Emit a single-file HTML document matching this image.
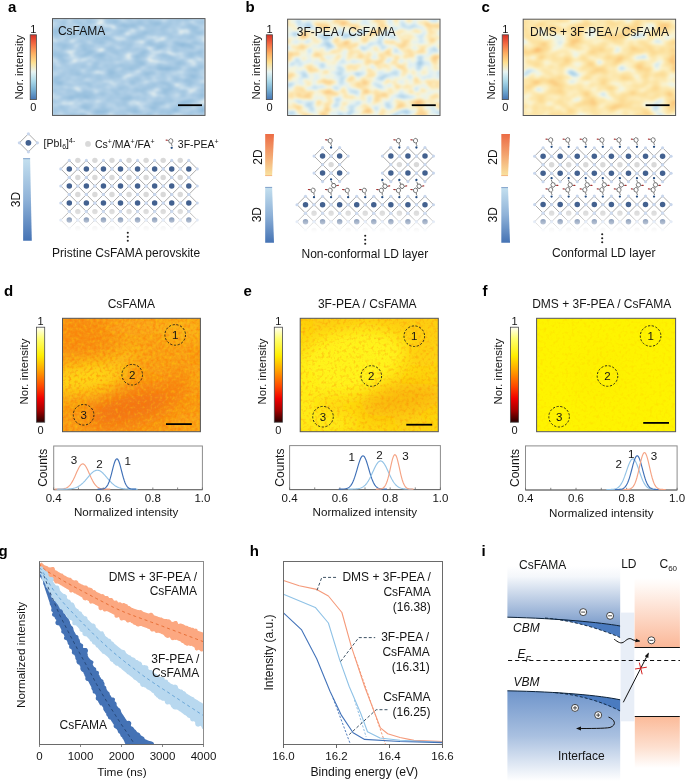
<!DOCTYPE html>
<html><head><meta charset="utf-8"><style>
html,body{margin:0;padding:0;background:#fff;}
svg{display:block;font-family:"Liberation Sans", sans-serif;will-change:transform;}
</style></head><body>
<svg width="685" height="781" viewBox="0 0 685 781">
<defs>
<linearGradient id="gRdYlBu" x1="0" y1="0" x2="0" y2="1"><stop offset="0.0" stop-color="#d73027"/><stop offset="0.14285714285714285" stop-color="#f46d43"/><stop offset="0.2857142857142857" stop-color="#fdae61"/><stop offset="0.42857142857142855" stop-color="#fee090"/><stop offset="0.5714285714285714" stop-color="#e8f4f2"/><stop offset="0.7142857142857143" stop-color="#abd9e9"/><stop offset="0.8571428571428571" stop-color="#74add1"/><stop offset="1.0" stop-color="#4575b4"/></linearGradient>
<linearGradient id="gHot" x1="0" y1="0" x2="0" y2="1"><stop offset="0" stop-color="#fffff6"/><stop offset="0.12" stop-color="#ffff70"/><stop offset="0.3" stop-color="#ffee00"/><stop offset="0.45" stop-color="#ffa500"/><stop offset="0.62" stop-color="#ff4a00"/><stop offset="0.75" stop-color="#f00000"/><stop offset="0.88" stop-color="#a00000"/><stop offset="1" stop-color="#280000"/></linearGradient>
<linearGradient id="g2D" x1="0" y1="0" x2="0" y2="1"><stop offset="0" stop-color="#ec6c45"/><stop offset="0.5" stop-color="#f3a570"/><stop offset="1" stop-color="#f9e3a0"/></linearGradient>
<linearGradient id="g3D" x1="0" y1="0" x2="0" y2="1"><stop offset="0" stop-color="#c4e0ef"/><stop offset="0.5" stop-color="#8fb2d8"/><stop offset="1" stop-color="#4573b4"/></linearGradient>
<filter id="fa" x="0" y="0" width="1" height="1" color-interpolation-filters="sRGB">
<feTurbulence type="fractalNoise" baseFrequency="0.075 0.14" numOctaves="2" seed="7" result="n"/>
<feColorMatrix in="n" type="matrix" values="1 0 0 0 0 1 0 0 0 0 1 0 0 0 0 0 0 0 0 1"/>
<feComponentTransfer><feFuncR type="table" tableValues="0.533 0.533 0.573 0.608 0.639 0.671 0.714 0.796 0.910 0.961 0.961"/><feFuncG type="table" tableValues="0.710 0.710 0.737 0.761 0.780 0.800 0.827 0.878 0.941 0.925 0.910"/><feFuncB type="table" tableValues="0.847 0.847 0.863 0.875 0.886 0.898 0.910 0.929 0.933 0.769 0.690"/></feComponentTransfer>
<feGaussianBlur stdDeviation="1.1"/>
</filter>
<filter id="fb" x="0" y="0" width="1" height="1" color-interpolation-filters="sRGB">
<feTurbulence type="fractalNoise" baseFrequency="0.075 0.1" numOctaves="2" seed="11" result="n"/>
<feColorMatrix in="n" type="matrix" values="1 0 0 0 0 1 0 0 0 0 1 0 0 0 0 0 0 0 0 1"/>
<feComponentTransfer><feFuncR type="table" tableValues="0.612 0.612 0.690 0.784 0.886 0.965 0.992 0.988 0.984 0.976 0.976"/><feFuncG type="table" tableValues="0.773 0.773 0.824 0.886 0.945 0.961 0.910 0.859 0.788 0.690 0.690"/><feFuncB type="table" tableValues="0.886 0.886 0.918 0.937 0.957 0.863 0.706 0.612 0.522 0.439 0.439"/></feComponentTransfer>
<feGaussianBlur stdDeviation="1.1"/>
</filter>
<filter id="fc" x="0" y="0" width="1" height="1" color-interpolation-filters="sRGB">
<feTurbulence type="fractalNoise" baseFrequency="0.06 0.09" numOctaves="2" seed="5" result="n"/>
<feColorMatrix in="n" type="matrix" values="1 0 0 0 0 1 0 0 0 0 1 0 0 0 0 0 0 0 0 1"/>
<feComponentTransfer><feFuncR type="table" tableValues="0.671 0.671 0.812 0.945 0.988 0.992 0.992 0.988 0.988 0.984 0.984"/><feFuncG type="table" tableValues="0.824 0.824 0.902 0.965 0.945 0.910 0.882 0.847 0.788 0.722 0.722"/><feFuncB type="table" tableValues="0.910 0.910 0.941 0.902 0.776 0.682 0.620 0.565 0.494 0.424 0.424"/></feComponentTransfer>
<feGaussianBlur stdDeviation="1.1"/>
</filter>
<g id="mol"><polygon points="1.21,-5.96 -0.51,-4.39 -2.62,-5.23 -3.01,-7.64 -1.29,-9.21 0.82,-8.37" fill="none" stroke="#505050" stroke-width="0.75"/>
<line x1="-3.0" y1="-7.5" x2="-4.3" y2="-7.6" stroke="#505050" stroke-width="0.7"/>
<line x1="-4.5" y1="-7.6" x2="-5.6" y2="-7.7" stroke="#a83030" stroke-width="1.1" stroke-linecap="round"/>
<polyline points="0.1,-4.4 -0.1,-3.0 0.6,-1.6" fill="none" stroke="#505050" stroke-width="0.75"/>
<circle cx="0" cy="0" r="1.15" fill="#234c80"/></g>
<linearGradient id="mag" x1="0" y1="209.5" x2="0" y2="232" gradientUnits="userSpaceOnUse"><stop offset="0" stop-color="#fff"/><stop offset="0.5" stop-color="#fff" stop-opacity="0.48"/><stop offset="1" stop-color="#fff" stop-opacity="0"/></linearGradient>
<mask id="ma" maskUnits="userSpaceOnUse" x="0" y="0" width="685" height="781"><rect x="0" y="0" width="685" height="781" fill="url(#mag)"/></mask>
<linearGradient id="mbg" x1="0" y1="210.5" x2="0" y2="233" gradientUnits="userSpaceOnUse"><stop offset="0" stop-color="#fff"/><stop offset="0.5" stop-color="#fff" stop-opacity="0.48"/><stop offset="1" stop-color="#fff" stop-opacity="0"/></linearGradient>
<mask id="mb" maskUnits="userSpaceOnUse" x="0" y="0" width="685" height="781"><rect x="0" y="0" width="685" height="781" fill="url(#mbg)"/></mask>
<linearGradient id="mcg" x1="0" y1="210.5" x2="0" y2="233" gradientUnits="userSpaceOnUse"><stop offset="0" stop-color="#fff"/><stop offset="0.5" stop-color="#fff" stop-opacity="0.48"/><stop offset="1" stop-color="#fff" stop-opacity="0"/></linearGradient>
<mask id="mc" maskUnits="userSpaceOnUse" x="0" y="0" width="685" height="781"><rect x="0" y="0" width="685" height="781" fill="url(#mcg)"/></mask>
<filter id="grain" x="0" y="0" width="1" height="1" color-interpolation-filters="sRGB">
<feTurbulence type="fractalNoise" baseFrequency="0.32" numOctaves="2" seed="9" result="n"/>
<feColorMatrix in="n" type="matrix" values="0 0 0 0 1 0 0 0 0 0.45 0 0 0 0 0 2.6 0 0 0 -1.25" result="dk"/>
<feColorMatrix in="n" type="matrix" values="0 0 0 0 1 0 0 0 0 0.9 0 0 0 0 0 -1.8 0 0 0 0.85" result="lt"/>
<feMerge><feMergeNode in="dk"/><feMergeNode in="lt"/></feMerge>
</filter>
<filter id="blur8" x="-50%" y="-50%" width="200%" height="200%"><feGaussianBlur stdDeviation="8"/></filter>
<clipPath id="cpd"><rect x="62.5" y="318.3" width="137.9" height="113.4"/></clipPath>
<clipPath id="cpe"><rect x="300.2" y="318.3" width="138.1" height="113.4"/></clipPath>
<clipPath id="cpf"><rect x="536.6" y="318.3" width="139" height="113.4"/></clipPath>
<clipPath id="cpg"><rect x="39.5" y="561.5" width="164.0" height="183.0"/></clipPath>
<clipPath id="cph"><rect x="283.5" y="561.5" width="159" height="183"/></clipPath>
<linearGradient id="giU" x1="0" y1="566" x2="0" y2="626" gradientUnits="userSpaceOnUse"><stop offset="0" stop-color="#ffffff"/><stop offset="0.18" stop-color="#f4f7fb"/><stop offset="1" stop-color="#7a9bca"/></linearGradient>
<linearGradient id="giL" x1="0" y1="691" x2="0" y2="781" gradientUnits="userSpaceOnUse"><stop offset="0" stop-color="#6f95cb"/><stop offset="0.5" stop-color="#a9c0e0"/><stop offset="1" stop-color="#ffffff"/></linearGradient>
<linearGradient id="gcU" x1="0" y1="578" x2="0" y2="648" gradientUnits="userSpaceOnUse"><stop offset="0" stop-color="#ffffff"/><stop offset="0.12" stop-color="#fff8f4"/><stop offset="1" stop-color="#fbb797"/></linearGradient>
<linearGradient id="gcL" x1="0" y1="717" x2="0" y2="768" gradientUnits="userSpaceOnUse"><stop offset="0" stop-color="#fbbb9a"/><stop offset="0.6" stop-color="#fde0d0"/><stop offset="1" stop-color="#ffffff"/></linearGradient>
<marker id="arr" viewBox="0 0 10 10" refX="8" refY="5" markerWidth="5" markerHeight="5" orient="auto-start-reverse"><path d="M0 1 L10 5 L0 9 Z" fill="#111"/></marker>
</defs>
<rect width="685" height="781" fill="#fff"/>
<text x="8.00" y="11.60" font-size="15" font-weight="bold" fill="#000">a</text>
<rect x="30.2" y="34.8" width="6.2" height="64.8" fill="url(#gRdYlBu)" stroke="#4a4a4a" stroke-width="0.8"/>
<text x="33.30" y="32.60" font-size="11" text-anchor="middle" fill="#151515">1</text>
<text x="33.30" y="110.90" font-size="11" text-anchor="middle" fill="#151515">0</text>
<text x="19.30" y="67.20" font-size="11.2" text-anchor="middle" fill="#151515" transform="rotate(-90 19.30 67.20)" dominant-baseline="central">Nor. intensity</text>
<rect x="52.5" y="18.6" width="152.5" height="96.8" fill="#fff" filter="url(#fa)"/>
<rect x="52.5" y="18.6" width="152.5" height="96.8" fill="none" stroke="#555" stroke-width="1"/>
<text x="57.90" y="34.90" font-size="12" fill="#151515">CsFAMA</text>
<line x1="178" y1="105.2" x2="202" y2="105.2" stroke="#000" stroke-width="1.8"/>
<text x="245.60" y="11.60" font-size="15" font-weight="bold" fill="#000">b</text>
<rect x="266.3" y="34.8" width="6.3" height="64.8" fill="url(#gRdYlBu)" stroke="#4a4a4a" stroke-width="0.8"/>
<text x="269.45" y="32.60" font-size="11" text-anchor="middle" fill="#151515">1</text>
<text x="269.45" y="110.90" font-size="11" text-anchor="middle" fill="#151515">0</text>
<text x="255.60" y="67.20" font-size="11.2" text-anchor="middle" fill="#151515" transform="rotate(-90 255.60 67.20)" dominant-baseline="central">Nor. intensity</text>
<rect x="287.6" y="19.2" width="152.4" height="96.3" fill="#fff" filter="url(#fb)"/>
<rect x="287.6" y="19.2" width="152.4" height="96.3" fill="none" stroke="#555" stroke-width="1"/>
<text x="296.80" y="35.50" font-size="12" fill="#151515">3F-PEA / CsFAMA</text>
<line x1="411.8" y1="105.2" x2="435.8" y2="105.2" stroke="#000" stroke-width="1.8"/>
<text x="481.50" y="11.60" font-size="15" font-weight="bold" fill="#000">c</text>
<rect x="502.2" y="34.8" width="6.3" height="64.8" fill="url(#gRdYlBu)" stroke="#4a4a4a" stroke-width="0.8"/>
<text x="505.35" y="32.60" font-size="11" text-anchor="middle" fill="#151515">1</text>
<text x="505.35" y="110.90" font-size="11" text-anchor="middle" fill="#151515">0</text>
<text x="491.50" y="67.20" font-size="11.2" text-anchor="middle" fill="#151515" transform="rotate(-90 491.50 67.20)" dominant-baseline="central">Nor. intensity</text>
<rect x="523.2" y="19.2" width="152.4" height="96.3" fill="#fff" filter="url(#fc)"/>
<rect x="523.2" y="19.2" width="152.4" height="96.3" fill="none" stroke="#555" stroke-width="1"/>
<text x="530.00" y="35.50" font-size="12" fill="#151515">DMS + 3F-PEA / CsFAMA</text>
<line x1="645.6" y1="105.2" x2="669.6" y2="105.2" stroke="#000" stroke-width="1.8"/>
<path d="M19.4 142.8L28.4 133.8L37.4 142.8L28.4 151.8Z" fill="none" stroke="#868686" stroke-width="0.7"/>
<circle cx="19.4" cy="142.8" r="1.6" fill="#c8d6ec"/>
<circle cx="37.4" cy="142.8" r="1.6" fill="#c8d6ec"/>
<circle cx="28.4" cy="133.8" r="1.6" fill="#c8d6ec"/>
<circle cx="28.4" cy="151.8" r="1.6" fill="#c8d6ec"/>
<circle cx="28.4" cy="142.8" r="2.9" fill="#43618f"/>
<text x="43.50" y="147.40" font-size="10.5" fill="#151515">[PbI<tspan font-size="7" dy="2">6</tspan><tspan dy="-2">]</tspan><tspan font-size="7" dy="-4.5">4-</tspan></text>
<circle cx="88" cy="143.9" r="2.9" fill="#d9d9d9"/>
<text x="95.00" y="147.60" font-size="10.5" fill="#151515">Cs<tspan font-size="7" dy="-4">+</tspan><tspan dy="4">/MA</tspan><tspan font-size="7" dy="-4">+</tspan><tspan dy="4">/FA</tspan><tspan font-size="7" dy="-4">+</tspan></text>
<use href="#mol" transform="translate(171.7 147.8)"/>
<text x="177.80" y="148.00" font-size="10.5" fill="#151515">3F-PEA<tspan font-size="7" dy="-4">+</tspan></text>
<polygon points="23.1,158.3 30.1,158.3 31.8,240.8 23.1,240.8" fill="url(#g3D)"/>
<line x1="23.1" y1="158.7" x2="30.1" y2="158.7" stroke="#6f90c0" stroke-width="0.8"/>
<text x="16.00" y="199.50" font-size="12" text-anchor="middle" fill="#151515" transform="rotate(-90 16.00 199.50)" dominant-baseline="central">3D</text>
<g mask="url(#ma)">
<path d="M60.8 168.9L69.3 160.4L77.8 168.9L69.3 177.4ZM77.87 168.9L86.37 160.4L94.87 168.9L86.37 177.4ZM94.94 168.9L103.44 160.4L111.94 168.9L103.44 177.4ZM112.01 168.9L120.51 160.4L129.01 168.9L120.51 177.4ZM129.08 168.9L137.58 160.4L146.08 168.9L137.58 177.4ZM146.15 168.9L154.65 160.4L163.15 168.9L154.65 177.4ZM163.22 168.9L171.72 160.4L180.22 168.9L171.72 177.4ZM180.29 168.9L188.79 160.4L197.29 168.9L188.79 177.4ZM60.8 185.97L69.3 177.47L77.8 185.97L69.3 194.47ZM77.87 185.97L86.37 177.47L94.87 185.97L86.37 194.47ZM94.94 185.97L103.44 177.47L111.94 185.97L103.44 194.47ZM112.01 185.97L120.51 177.47L129.01 185.97L120.51 194.47ZM129.08 185.97L137.58 177.47L146.08 185.97L137.58 194.47ZM146.15 185.97L154.65 177.47L163.15 185.97L154.65 194.47ZM163.22 185.97L171.72 177.47L180.22 185.97L171.72 194.47ZM180.29 185.97L188.79 177.47L197.29 185.97L188.79 194.47ZM60.8 203.04L69.3 194.54L77.8 203.04L69.3 211.54ZM77.87 203.04L86.37 194.54L94.87 203.04L86.37 211.54ZM94.94 203.04L103.44 194.54L111.94 203.04L103.44 211.54ZM112.01 203.04L120.51 194.54L129.01 203.04L120.51 211.54ZM129.08 203.04L137.58 194.54L146.08 203.04L137.58 211.54ZM146.15 203.04L154.65 194.54L163.15 203.04L154.65 211.54ZM163.22 203.04L171.72 194.54L180.22 203.04L171.72 211.54ZM180.29 203.04L188.79 194.54L197.29 203.04L188.79 211.54ZM60.8 220.11L69.3 211.61L77.8 220.11L69.3 228.61ZM77.87 220.11L86.37 211.61L94.87 220.11L86.37 228.61ZM94.94 220.11L103.44 211.61L111.94 220.11L103.44 228.61ZM112.01 220.11L120.51 211.61L129.01 220.11L120.51 228.61ZM129.08 220.11L137.58 211.61L146.08 220.11L137.58 228.61ZM146.15 220.11L154.65 211.61L163.15 220.11L154.65 228.61ZM163.22 220.11L171.72 211.61L180.22 220.11L171.72 228.61ZM180.29 220.11L188.79 211.61L197.29 220.11L188.79 228.61Z" fill="none" stroke="#868686" stroke-width="0.7"/>
<circle cx="77.83" cy="160.37" r="2.7" fill="#d9d9d9"/>
<circle cx="94.9" cy="160.37" r="2.7" fill="#d9d9d9"/>
<circle cx="111.97" cy="160.37" r="2.7" fill="#d9d9d9"/>
<circle cx="129.04" cy="160.37" r="2.7" fill="#d9d9d9"/>
<circle cx="146.11" cy="160.37" r="2.7" fill="#d9d9d9"/>
<circle cx="163.18" cy="160.37" r="2.7" fill="#d9d9d9"/>
<circle cx="180.25" cy="160.37" r="2.7" fill="#d9d9d9"/>
<circle cx="77.83" cy="177.44" r="2.7" fill="#d9d9d9"/>
<circle cx="94.9" cy="177.44" r="2.7" fill="#d9d9d9"/>
<circle cx="111.97" cy="177.44" r="2.7" fill="#d9d9d9"/>
<circle cx="129.04" cy="177.44" r="2.7" fill="#d9d9d9"/>
<circle cx="146.11" cy="177.44" r="2.7" fill="#d9d9d9"/>
<circle cx="163.18" cy="177.44" r="2.7" fill="#d9d9d9"/>
<circle cx="180.25" cy="177.44" r="2.7" fill="#d9d9d9"/>
<circle cx="77.83" cy="194.51" r="2.7" fill="#d9d9d9"/>
<circle cx="94.9" cy="194.51" r="2.7" fill="#d9d9d9"/>
<circle cx="111.97" cy="194.51" r="2.7" fill="#d9d9d9"/>
<circle cx="129.04" cy="194.51" r="2.7" fill="#d9d9d9"/>
<circle cx="146.11" cy="194.51" r="2.7" fill="#d9d9d9"/>
<circle cx="163.18" cy="194.51" r="2.7" fill="#d9d9d9"/>
<circle cx="180.25" cy="194.51" r="2.7" fill="#d9d9d9"/>
<circle cx="77.83" cy="211.58" r="2.7" fill="#d9d9d9"/>
<circle cx="94.9" cy="211.58" r="2.7" fill="#d9d9d9"/>
<circle cx="111.97" cy="211.58" r="2.7" fill="#d9d9d9"/>
<circle cx="129.04" cy="211.58" r="2.7" fill="#d9d9d9"/>
<circle cx="146.11" cy="211.58" r="2.7" fill="#d9d9d9"/>
<circle cx="163.18" cy="211.58" r="2.7" fill="#d9d9d9"/>
<circle cx="180.25" cy="211.58" r="2.7" fill="#d9d9d9"/>
<circle cx="77.83" cy="228.65" r="2.7" fill="#d9d9d9"/>
<circle cx="94.9" cy="228.65" r="2.7" fill="#d9d9d9"/>
<circle cx="111.97" cy="228.65" r="2.7" fill="#d9d9d9"/>
<circle cx="129.04" cy="228.65" r="2.7" fill="#d9d9d9"/>
<circle cx="146.11" cy="228.65" r="2.7" fill="#d9d9d9"/>
<circle cx="163.18" cy="228.65" r="2.7" fill="#d9d9d9"/>
<circle cx="180.25" cy="228.65" r="2.7" fill="#d9d9d9"/>
<circle cx="60.8" cy="168.9" r="1.55" fill="#c8d6ec"/>
<circle cx="60.8" cy="185.97" r="1.55" fill="#c8d6ec"/>
<circle cx="60.8" cy="203.04" r="1.55" fill="#c8d6ec"/>
<circle cx="60.8" cy="220.11" r="1.55" fill="#c8d6ec"/>
<circle cx="69.3" cy="160.4" r="1.55" fill="#c8d6ec"/>
<circle cx="69.3" cy="177.4" r="1.55" fill="#c8d6ec"/>
<circle cx="69.3" cy="177.47" r="1.55" fill="#c8d6ec"/>
<circle cx="69.3" cy="194.47" r="1.55" fill="#c8d6ec"/>
<circle cx="69.3" cy="194.54" r="1.55" fill="#c8d6ec"/>
<circle cx="69.3" cy="211.54" r="1.55" fill="#c8d6ec"/>
<circle cx="69.3" cy="211.61" r="1.55" fill="#c8d6ec"/>
<circle cx="69.3" cy="228.61" r="1.55" fill="#c8d6ec"/>
<circle cx="77.8" cy="168.9" r="1.55" fill="#c8d6ec"/>
<circle cx="77.8" cy="185.97" r="1.55" fill="#c8d6ec"/>
<circle cx="77.8" cy="203.04" r="1.55" fill="#c8d6ec"/>
<circle cx="77.8" cy="220.11" r="1.55" fill="#c8d6ec"/>
<circle cx="77.87" cy="168.9" r="1.55" fill="#c8d6ec"/>
<circle cx="77.87" cy="185.97" r="1.55" fill="#c8d6ec"/>
<circle cx="77.87" cy="203.04" r="1.55" fill="#c8d6ec"/>
<circle cx="77.87" cy="220.11" r="1.55" fill="#c8d6ec"/>
<circle cx="86.37" cy="160.4" r="1.55" fill="#c8d6ec"/>
<circle cx="86.37" cy="177.4" r="1.55" fill="#c8d6ec"/>
<circle cx="86.37" cy="177.47" r="1.55" fill="#c8d6ec"/>
<circle cx="86.37" cy="194.47" r="1.55" fill="#c8d6ec"/>
<circle cx="86.37" cy="194.54" r="1.55" fill="#c8d6ec"/>
<circle cx="86.37" cy="211.54" r="1.55" fill="#c8d6ec"/>
<circle cx="86.37" cy="211.61" r="1.55" fill="#c8d6ec"/>
<circle cx="86.37" cy="228.61" r="1.55" fill="#c8d6ec"/>
<circle cx="94.87" cy="168.9" r="1.55" fill="#c8d6ec"/>
<circle cx="94.87" cy="185.97" r="1.55" fill="#c8d6ec"/>
<circle cx="94.87" cy="203.04" r="1.55" fill="#c8d6ec"/>
<circle cx="94.87" cy="220.11" r="1.55" fill="#c8d6ec"/>
<circle cx="94.94" cy="168.9" r="1.55" fill="#c8d6ec"/>
<circle cx="94.94" cy="185.97" r="1.55" fill="#c8d6ec"/>
<circle cx="94.94" cy="203.04" r="1.55" fill="#c8d6ec"/>
<circle cx="94.94" cy="220.11" r="1.55" fill="#c8d6ec"/>
<circle cx="103.44" cy="160.4" r="1.55" fill="#c8d6ec"/>
<circle cx="103.44" cy="177.4" r="1.55" fill="#c8d6ec"/>
<circle cx="103.44" cy="177.47" r="1.55" fill="#c8d6ec"/>
<circle cx="103.44" cy="194.47" r="1.55" fill="#c8d6ec"/>
<circle cx="103.44" cy="194.54" r="1.55" fill="#c8d6ec"/>
<circle cx="103.44" cy="211.54" r="1.55" fill="#c8d6ec"/>
<circle cx="103.44" cy="211.61" r="1.55" fill="#c8d6ec"/>
<circle cx="103.44" cy="228.61" r="1.55" fill="#c8d6ec"/>
<circle cx="111.94" cy="168.9" r="1.55" fill="#c8d6ec"/>
<circle cx="111.94" cy="185.97" r="1.55" fill="#c8d6ec"/>
<circle cx="111.94" cy="203.04" r="1.55" fill="#c8d6ec"/>
<circle cx="111.94" cy="220.11" r="1.55" fill="#c8d6ec"/>
<circle cx="112.01" cy="168.9" r="1.55" fill="#c8d6ec"/>
<circle cx="112.01" cy="185.97" r="1.55" fill="#c8d6ec"/>
<circle cx="112.01" cy="203.04" r="1.55" fill="#c8d6ec"/>
<circle cx="112.01" cy="220.11" r="1.55" fill="#c8d6ec"/>
<circle cx="120.51" cy="160.4" r="1.55" fill="#c8d6ec"/>
<circle cx="120.51" cy="177.4" r="1.55" fill="#c8d6ec"/>
<circle cx="120.51" cy="177.47" r="1.55" fill="#c8d6ec"/>
<circle cx="120.51" cy="194.47" r="1.55" fill="#c8d6ec"/>
<circle cx="120.51" cy="194.54" r="1.55" fill="#c8d6ec"/>
<circle cx="120.51" cy="211.54" r="1.55" fill="#c8d6ec"/>
<circle cx="120.51" cy="211.61" r="1.55" fill="#c8d6ec"/>
<circle cx="120.51" cy="228.61" r="1.55" fill="#c8d6ec"/>
<circle cx="129.01" cy="168.9" r="1.55" fill="#c8d6ec"/>
<circle cx="129.01" cy="185.97" r="1.55" fill="#c8d6ec"/>
<circle cx="129.01" cy="203.04" r="1.55" fill="#c8d6ec"/>
<circle cx="129.01" cy="220.11" r="1.55" fill="#c8d6ec"/>
<circle cx="129.08" cy="168.9" r="1.55" fill="#c8d6ec"/>
<circle cx="129.08" cy="185.97" r="1.55" fill="#c8d6ec"/>
<circle cx="129.08" cy="203.04" r="1.55" fill="#c8d6ec"/>
<circle cx="129.08" cy="220.11" r="1.55" fill="#c8d6ec"/>
<circle cx="137.58" cy="160.4" r="1.55" fill="#c8d6ec"/>
<circle cx="137.58" cy="177.4" r="1.55" fill="#c8d6ec"/>
<circle cx="137.58" cy="177.47" r="1.55" fill="#c8d6ec"/>
<circle cx="137.58" cy="194.47" r="1.55" fill="#c8d6ec"/>
<circle cx="137.58" cy="194.54" r="1.55" fill="#c8d6ec"/>
<circle cx="137.58" cy="211.54" r="1.55" fill="#c8d6ec"/>
<circle cx="137.58" cy="211.61" r="1.55" fill="#c8d6ec"/>
<circle cx="137.58" cy="228.61" r="1.55" fill="#c8d6ec"/>
<circle cx="146.08" cy="168.9" r="1.55" fill="#c8d6ec"/>
<circle cx="146.08" cy="185.97" r="1.55" fill="#c8d6ec"/>
<circle cx="146.08" cy="203.04" r="1.55" fill="#c8d6ec"/>
<circle cx="146.08" cy="220.11" r="1.55" fill="#c8d6ec"/>
<circle cx="146.15" cy="168.9" r="1.55" fill="#c8d6ec"/>
<circle cx="146.15" cy="185.97" r="1.55" fill="#c8d6ec"/>
<circle cx="146.15" cy="203.04" r="1.55" fill="#c8d6ec"/>
<circle cx="146.15" cy="220.11" r="1.55" fill="#c8d6ec"/>
<circle cx="154.65" cy="160.4" r="1.55" fill="#c8d6ec"/>
<circle cx="154.65" cy="177.4" r="1.55" fill="#c8d6ec"/>
<circle cx="154.65" cy="177.47" r="1.55" fill="#c8d6ec"/>
<circle cx="154.65" cy="194.47" r="1.55" fill="#c8d6ec"/>
<circle cx="154.65" cy="194.54" r="1.55" fill="#c8d6ec"/>
<circle cx="154.65" cy="211.54" r="1.55" fill="#c8d6ec"/>
<circle cx="154.65" cy="211.61" r="1.55" fill="#c8d6ec"/>
<circle cx="154.65" cy="228.61" r="1.55" fill="#c8d6ec"/>
<circle cx="163.15" cy="168.9" r="1.55" fill="#c8d6ec"/>
<circle cx="163.15" cy="185.97" r="1.55" fill="#c8d6ec"/>
<circle cx="163.15" cy="203.04" r="1.55" fill="#c8d6ec"/>
<circle cx="163.15" cy="220.11" r="1.55" fill="#c8d6ec"/>
<circle cx="163.22" cy="168.9" r="1.55" fill="#c8d6ec"/>
<circle cx="163.22" cy="185.97" r="1.55" fill="#c8d6ec"/>
<circle cx="163.22" cy="203.04" r="1.55" fill="#c8d6ec"/>
<circle cx="163.22" cy="220.11" r="1.55" fill="#c8d6ec"/>
<circle cx="171.72" cy="160.4" r="1.55" fill="#c8d6ec"/>
<circle cx="171.72" cy="177.4" r="1.55" fill="#c8d6ec"/>
<circle cx="171.72" cy="177.47" r="1.55" fill="#c8d6ec"/>
<circle cx="171.72" cy="194.47" r="1.55" fill="#c8d6ec"/>
<circle cx="171.72" cy="194.54" r="1.55" fill="#c8d6ec"/>
<circle cx="171.72" cy="211.54" r="1.55" fill="#c8d6ec"/>
<circle cx="171.72" cy="211.61" r="1.55" fill="#c8d6ec"/>
<circle cx="171.72" cy="228.61" r="1.55" fill="#c8d6ec"/>
<circle cx="180.22" cy="168.9" r="1.55" fill="#c8d6ec"/>
<circle cx="180.22" cy="185.97" r="1.55" fill="#c8d6ec"/>
<circle cx="180.22" cy="203.04" r="1.55" fill="#c8d6ec"/>
<circle cx="180.22" cy="220.11" r="1.55" fill="#c8d6ec"/>
<circle cx="180.29" cy="168.9" r="1.55" fill="#c8d6ec"/>
<circle cx="180.29" cy="185.97" r="1.55" fill="#c8d6ec"/>
<circle cx="180.29" cy="203.04" r="1.55" fill="#c8d6ec"/>
<circle cx="180.29" cy="220.11" r="1.55" fill="#c8d6ec"/>
<circle cx="188.79" cy="160.4" r="1.55" fill="#c8d6ec"/>
<circle cx="188.79" cy="177.4" r="1.55" fill="#c8d6ec"/>
<circle cx="188.79" cy="177.47" r="1.55" fill="#c8d6ec"/>
<circle cx="188.79" cy="194.47" r="1.55" fill="#c8d6ec"/>
<circle cx="188.79" cy="194.54" r="1.55" fill="#c8d6ec"/>
<circle cx="188.79" cy="211.54" r="1.55" fill="#c8d6ec"/>
<circle cx="188.79" cy="211.61" r="1.55" fill="#c8d6ec"/>
<circle cx="188.79" cy="228.61" r="1.55" fill="#c8d6ec"/>
<circle cx="197.29" cy="168.9" r="1.55" fill="#c8d6ec"/>
<circle cx="197.29" cy="185.97" r="1.55" fill="#c8d6ec"/>
<circle cx="197.29" cy="203.04" r="1.55" fill="#c8d6ec"/>
<circle cx="197.29" cy="220.11" r="1.55" fill="#c8d6ec"/>
<circle cx="69.3" cy="168.9" r="2.75" fill="#43618f"/>
<circle cx="86.37" cy="168.9" r="2.75" fill="#43618f"/>
<circle cx="103.44" cy="168.9" r="2.75" fill="#43618f"/>
<circle cx="120.51" cy="168.9" r="2.75" fill="#43618f"/>
<circle cx="137.58" cy="168.9" r="2.75" fill="#43618f"/>
<circle cx="154.65" cy="168.9" r="2.75" fill="#43618f"/>
<circle cx="171.72" cy="168.9" r="2.75" fill="#43618f"/>
<circle cx="188.79" cy="168.9" r="2.75" fill="#43618f"/>
<circle cx="69.3" cy="185.97" r="2.75" fill="#43618f"/>
<circle cx="86.37" cy="185.97" r="2.75" fill="#43618f"/>
<circle cx="103.44" cy="185.97" r="2.75" fill="#43618f"/>
<circle cx="120.51" cy="185.97" r="2.75" fill="#43618f"/>
<circle cx="137.58" cy="185.97" r="2.75" fill="#43618f"/>
<circle cx="154.65" cy="185.97" r="2.75" fill="#43618f"/>
<circle cx="171.72" cy="185.97" r="2.75" fill="#43618f"/>
<circle cx="188.79" cy="185.97" r="2.75" fill="#43618f"/>
<circle cx="69.3" cy="203.04" r="2.75" fill="#43618f"/>
<circle cx="86.37" cy="203.04" r="2.75" fill="#43618f"/>
<circle cx="103.44" cy="203.04" r="2.75" fill="#43618f"/>
<circle cx="120.51" cy="203.04" r="2.75" fill="#43618f"/>
<circle cx="137.58" cy="203.04" r="2.75" fill="#43618f"/>
<circle cx="154.65" cy="203.04" r="2.75" fill="#43618f"/>
<circle cx="171.72" cy="203.04" r="2.75" fill="#43618f"/>
<circle cx="188.79" cy="203.04" r="2.75" fill="#43618f"/>
<circle cx="69.3" cy="220.11" r="2.75" fill="#43618f"/>
<circle cx="86.37" cy="220.11" r="2.75" fill="#43618f"/>
<circle cx="103.44" cy="220.11" r="2.75" fill="#43618f"/>
<circle cx="120.51" cy="220.11" r="2.75" fill="#43618f"/>
<circle cx="137.58" cy="220.11" r="2.75" fill="#43618f"/>
<circle cx="154.65" cy="220.11" r="2.75" fill="#43618f"/>
<circle cx="171.72" cy="220.11" r="2.75" fill="#43618f"/>
<circle cx="188.79" cy="220.11" r="2.75" fill="#43618f"/>
</g>
<circle cx="127.8" cy="232.8" r="1.05" fill="#222"/>
<circle cx="127.8" cy="236.8" r="1.05" fill="#222"/>
<circle cx="127.8" cy="240.8" r="1.05" fill="#222"/>
<text x="52.00" y="257.00" font-size="12" fill="#151515">Pristine CsFAMA perovskite</text>
<polygon points="265.2,134.1 274,134.1 272.1,176 265.2,176" fill="url(#g2D)"/>
<line x1="265.2" y1="175.6" x2="272.1" y2="175.6" stroke="#f2a878" stroke-width="0.8"/>
<polygon points="265.2,187 272.1,187 274,242.8 265.2,242.8" fill="url(#g3D)"/>
<line x1="265.2" y1="187.4" x2="272.1" y2="187.4" stroke="#6f90c0" stroke-width="0.8"/>
<text x="257.50" y="157.00" font-size="12" text-anchor="middle" fill="#151515" transform="rotate(-90 257.50 157.00)" dominant-baseline="central">2D</text>
<text x="257.50" y="214.70" font-size="12" text-anchor="middle" fill="#151515" transform="rotate(-90 257.50 214.70)" dominant-baseline="central">3D</text>
<g>
<path d="M314.07 156.1L322.57 147.6L331.07 156.1L322.57 164.6ZM331.14 156.1L339.64 147.6L348.14 156.1L339.64 164.6ZM314.07 173.1L322.57 164.6L331.07 173.1L322.57 181.6ZM331.14 173.1L339.64 164.6L348.14 173.1L339.64 181.6ZM382.35 156.1L390.85 147.6L399.35 156.1L390.85 164.6ZM399.42 156.1L407.92 147.6L416.42 156.1L407.92 164.6ZM416.49 156.1L424.99 147.6L433.49 156.1L424.99 164.6ZM382.35 173.1L390.85 164.6L399.35 173.1L390.85 181.6ZM399.42 173.1L407.92 164.6L416.42 173.1L407.92 181.6ZM416.49 173.1L424.99 164.6L433.49 173.1L424.99 181.6Z" fill="none" stroke="#868686" stroke-width="0.7"/>
<circle cx="331.1" cy="164.6" r="2.7" fill="#d9d9d9"/>
<circle cx="399.38" cy="164.6" r="2.7" fill="#d9d9d9"/>
<circle cx="416.45" cy="164.6" r="2.7" fill="#d9d9d9"/>
<circle cx="314.07" cy="156.1" r="1.55" fill="#c8d6ec"/>
<circle cx="314.07" cy="173.1" r="1.55" fill="#c8d6ec"/>
<circle cx="322.57" cy="147.6" r="1.55" fill="#c8d6ec"/>
<circle cx="322.57" cy="164.6" r="1.55" fill="#c8d6ec"/>
<circle cx="322.57" cy="181.6" r="1.55" fill="#c8d6ec"/>
<circle cx="331.07" cy="156.1" r="1.55" fill="#c8d6ec"/>
<circle cx="331.07" cy="173.1" r="1.55" fill="#c8d6ec"/>
<circle cx="331.14" cy="156.1" r="1.55" fill="#c8d6ec"/>
<circle cx="331.14" cy="173.1" r="1.55" fill="#c8d6ec"/>
<circle cx="339.64" cy="147.6" r="1.55" fill="#c8d6ec"/>
<circle cx="339.64" cy="164.6" r="1.55" fill="#c8d6ec"/>
<circle cx="339.64" cy="181.6" r="1.55" fill="#c8d6ec"/>
<circle cx="348.14" cy="156.1" r="1.55" fill="#c8d6ec"/>
<circle cx="348.14" cy="173.1" r="1.55" fill="#c8d6ec"/>
<circle cx="382.35" cy="156.1" r="1.55" fill="#c8d6ec"/>
<circle cx="382.35" cy="173.1" r="1.55" fill="#c8d6ec"/>
<circle cx="390.85" cy="147.6" r="1.55" fill="#c8d6ec"/>
<circle cx="390.85" cy="164.6" r="1.55" fill="#c8d6ec"/>
<circle cx="390.85" cy="181.6" r="1.55" fill="#c8d6ec"/>
<circle cx="399.35" cy="156.1" r="1.55" fill="#c8d6ec"/>
<circle cx="399.35" cy="173.1" r="1.55" fill="#c8d6ec"/>
<circle cx="399.42" cy="156.1" r="1.55" fill="#c8d6ec"/>
<circle cx="399.42" cy="173.1" r="1.55" fill="#c8d6ec"/>
<circle cx="407.92" cy="147.6" r="1.55" fill="#c8d6ec"/>
<circle cx="407.92" cy="164.6" r="1.55" fill="#c8d6ec"/>
<circle cx="407.92" cy="181.6" r="1.55" fill="#c8d6ec"/>
<circle cx="416.42" cy="156.1" r="1.55" fill="#c8d6ec"/>
<circle cx="416.42" cy="173.1" r="1.55" fill="#c8d6ec"/>
<circle cx="416.49" cy="156.1" r="1.55" fill="#c8d6ec"/>
<circle cx="416.49" cy="173.1" r="1.55" fill="#c8d6ec"/>
<circle cx="424.99" cy="147.6" r="1.55" fill="#c8d6ec"/>
<circle cx="424.99" cy="164.6" r="1.55" fill="#c8d6ec"/>
<circle cx="424.99" cy="181.6" r="1.55" fill="#c8d6ec"/>
<circle cx="433.49" cy="156.1" r="1.55" fill="#c8d6ec"/>
<circle cx="433.49" cy="173.1" r="1.55" fill="#c8d6ec"/>
<circle cx="322.57" cy="156.1" r="2.75" fill="#43618f"/>
<circle cx="339.64" cy="156.1" r="2.75" fill="#43618f"/>
<circle cx="322.57" cy="173.1" r="2.75" fill="#43618f"/>
<circle cx="339.64" cy="173.1" r="2.75" fill="#43618f"/>
<circle cx="390.85" cy="156.1" r="2.75" fill="#43618f"/>
<circle cx="407.92" cy="156.1" r="2.75" fill="#43618f"/>
<circle cx="424.99" cy="156.1" r="2.75" fill="#43618f"/>
<circle cx="390.85" cy="173.1" r="2.75" fill="#43618f"/>
<circle cx="407.92" cy="173.1" r="2.75" fill="#43618f"/>
<circle cx="424.99" cy="173.1" r="2.75" fill="#43618f"/>
</g>
<g mask="url(#mb)">
<path d="M297 204.7L305.5 196.2L314 204.7L305.5 213.2ZM314.07 204.7L322.57 196.2L331.07 204.7L322.57 213.2ZM331.14 204.7L339.64 196.2L348.14 204.7L339.64 213.2ZM348.21 204.7L356.71 196.2L365.21 204.7L356.71 213.2ZM365.28 204.7L373.78 196.2L382.28 204.7L373.78 213.2ZM382.35 204.7L390.85 196.2L399.35 204.7L390.85 213.2ZM399.42 204.7L407.92 196.2L416.42 204.7L407.92 213.2ZM416.49 204.7L424.99 196.2L433.49 204.7L424.99 213.2ZM297 221.8L305.5 213.3L314 221.8L305.5 230.3ZM314.07 221.8L322.57 213.3L331.07 221.8L322.57 230.3ZM331.14 221.8L339.64 213.3L348.14 221.8L339.64 230.3ZM348.21 221.8L356.71 213.3L365.21 221.8L356.71 230.3ZM365.28 221.8L373.78 213.3L382.28 221.8L373.78 230.3ZM382.35 221.8L390.85 213.3L399.35 221.8L390.85 230.3ZM399.42 221.8L407.92 213.3L416.42 221.8L407.92 230.3ZM416.49 221.8L424.99 213.3L433.49 221.8L424.99 230.3Z" fill="none" stroke="#868686" stroke-width="0.7"/>
<circle cx="314.03" cy="213.23" r="2.7" fill="#d9d9d9"/>
<circle cx="331.1" cy="213.23" r="2.7" fill="#d9d9d9"/>
<circle cx="348.17" cy="213.23" r="2.7" fill="#d9d9d9"/>
<circle cx="365.24" cy="213.23" r="2.7" fill="#d9d9d9"/>
<circle cx="382.31" cy="213.23" r="2.7" fill="#d9d9d9"/>
<circle cx="399.38" cy="213.23" r="2.7" fill="#d9d9d9"/>
<circle cx="416.45" cy="213.23" r="2.7" fill="#d9d9d9"/>
<circle cx="314.03" cy="230.33" r="2.7" fill="#d9d9d9"/>
<circle cx="331.1" cy="230.33" r="2.7" fill="#d9d9d9"/>
<circle cx="348.17" cy="230.33" r="2.7" fill="#d9d9d9"/>
<circle cx="365.24" cy="230.33" r="2.7" fill="#d9d9d9"/>
<circle cx="382.31" cy="230.33" r="2.7" fill="#d9d9d9"/>
<circle cx="399.38" cy="230.33" r="2.7" fill="#d9d9d9"/>
<circle cx="416.45" cy="230.33" r="2.7" fill="#d9d9d9"/>
<circle cx="297" cy="204.7" r="1.55" fill="#c8d6ec"/>
<circle cx="297" cy="221.8" r="1.55" fill="#c8d6ec"/>
<circle cx="305.5" cy="196.2" r="1.55" fill="#c8d6ec"/>
<circle cx="305.5" cy="213.2" r="1.55" fill="#c8d6ec"/>
<circle cx="305.5" cy="213.3" r="1.55" fill="#c8d6ec"/>
<circle cx="305.5" cy="230.3" r="1.55" fill="#c8d6ec"/>
<circle cx="314" cy="204.7" r="1.55" fill="#c8d6ec"/>
<circle cx="314" cy="221.8" r="1.55" fill="#c8d6ec"/>
<circle cx="314.07" cy="204.7" r="1.55" fill="#c8d6ec"/>
<circle cx="314.07" cy="221.8" r="1.55" fill="#c8d6ec"/>
<circle cx="322.57" cy="196.2" r="1.55" fill="#c8d6ec"/>
<circle cx="322.57" cy="213.2" r="1.55" fill="#c8d6ec"/>
<circle cx="322.57" cy="213.3" r="1.55" fill="#c8d6ec"/>
<circle cx="322.57" cy="230.3" r="1.55" fill="#c8d6ec"/>
<circle cx="331.07" cy="204.7" r="1.55" fill="#c8d6ec"/>
<circle cx="331.07" cy="221.8" r="1.55" fill="#c8d6ec"/>
<circle cx="331.14" cy="204.7" r="1.55" fill="#c8d6ec"/>
<circle cx="331.14" cy="221.8" r="1.55" fill="#c8d6ec"/>
<circle cx="339.64" cy="196.2" r="1.55" fill="#c8d6ec"/>
<circle cx="339.64" cy="213.2" r="1.55" fill="#c8d6ec"/>
<circle cx="339.64" cy="213.3" r="1.55" fill="#c8d6ec"/>
<circle cx="339.64" cy="230.3" r="1.55" fill="#c8d6ec"/>
<circle cx="348.14" cy="204.7" r="1.55" fill="#c8d6ec"/>
<circle cx="348.14" cy="221.8" r="1.55" fill="#c8d6ec"/>
<circle cx="348.21" cy="204.7" r="1.55" fill="#c8d6ec"/>
<circle cx="348.21" cy="221.8" r="1.55" fill="#c8d6ec"/>
<circle cx="356.71" cy="196.2" r="1.55" fill="#c8d6ec"/>
<circle cx="356.71" cy="213.2" r="1.55" fill="#c8d6ec"/>
<circle cx="356.71" cy="213.3" r="1.55" fill="#c8d6ec"/>
<circle cx="356.71" cy="230.3" r="1.55" fill="#c8d6ec"/>
<circle cx="365.21" cy="204.7" r="1.55" fill="#c8d6ec"/>
<circle cx="365.21" cy="221.8" r="1.55" fill="#c8d6ec"/>
<circle cx="365.28" cy="204.7" r="1.55" fill="#c8d6ec"/>
<circle cx="365.28" cy="221.8" r="1.55" fill="#c8d6ec"/>
<circle cx="373.78" cy="196.2" r="1.55" fill="#c8d6ec"/>
<circle cx="373.78" cy="213.2" r="1.55" fill="#c8d6ec"/>
<circle cx="373.78" cy="213.3" r="1.55" fill="#c8d6ec"/>
<circle cx="373.78" cy="230.3" r="1.55" fill="#c8d6ec"/>
<circle cx="382.28" cy="204.7" r="1.55" fill="#c8d6ec"/>
<circle cx="382.28" cy="221.8" r="1.55" fill="#c8d6ec"/>
<circle cx="382.35" cy="204.7" r="1.55" fill="#c8d6ec"/>
<circle cx="382.35" cy="221.8" r="1.55" fill="#c8d6ec"/>
<circle cx="390.85" cy="196.2" r="1.55" fill="#c8d6ec"/>
<circle cx="390.85" cy="213.2" r="1.55" fill="#c8d6ec"/>
<circle cx="390.85" cy="213.3" r="1.55" fill="#c8d6ec"/>
<circle cx="390.85" cy="230.3" r="1.55" fill="#c8d6ec"/>
<circle cx="399.35" cy="204.7" r="1.55" fill="#c8d6ec"/>
<circle cx="399.35" cy="221.8" r="1.55" fill="#c8d6ec"/>
<circle cx="399.42" cy="204.7" r="1.55" fill="#c8d6ec"/>
<circle cx="399.42" cy="221.8" r="1.55" fill="#c8d6ec"/>
<circle cx="407.92" cy="196.2" r="1.55" fill="#c8d6ec"/>
<circle cx="407.92" cy="213.2" r="1.55" fill="#c8d6ec"/>
<circle cx="407.92" cy="213.3" r="1.55" fill="#c8d6ec"/>
<circle cx="407.92" cy="230.3" r="1.55" fill="#c8d6ec"/>
<circle cx="416.42" cy="204.7" r="1.55" fill="#c8d6ec"/>
<circle cx="416.42" cy="221.8" r="1.55" fill="#c8d6ec"/>
<circle cx="416.49" cy="204.7" r="1.55" fill="#c8d6ec"/>
<circle cx="416.49" cy="221.8" r="1.55" fill="#c8d6ec"/>
<circle cx="424.99" cy="196.2" r="1.55" fill="#c8d6ec"/>
<circle cx="424.99" cy="213.2" r="1.55" fill="#c8d6ec"/>
<circle cx="424.99" cy="213.3" r="1.55" fill="#c8d6ec"/>
<circle cx="424.99" cy="230.3" r="1.55" fill="#c8d6ec"/>
<circle cx="433.49" cy="204.7" r="1.55" fill="#c8d6ec"/>
<circle cx="433.49" cy="221.8" r="1.55" fill="#c8d6ec"/>
<circle cx="305.5" cy="204.7" r="2.75" fill="#43618f"/>
<circle cx="322.57" cy="204.7" r="2.75" fill="#43618f"/>
<circle cx="339.64" cy="204.7" r="2.75" fill="#43618f"/>
<circle cx="356.71" cy="204.7" r="2.75" fill="#43618f"/>
<circle cx="373.78" cy="204.7" r="2.75" fill="#43618f"/>
<circle cx="390.85" cy="204.7" r="2.75" fill="#43618f"/>
<circle cx="407.92" cy="204.7" r="2.75" fill="#43618f"/>
<circle cx="424.99" cy="204.7" r="2.75" fill="#43618f"/>
<circle cx="305.5" cy="221.8" r="2.75" fill="#43618f"/>
<circle cx="322.57" cy="221.8" r="2.75" fill="#43618f"/>
<circle cx="339.64" cy="221.8" r="2.75" fill="#43618f"/>
<circle cx="356.71" cy="221.8" r="2.75" fill="#43618f"/>
<circle cx="373.78" cy="221.8" r="2.75" fill="#43618f"/>
<circle cx="390.85" cy="221.8" r="2.75" fill="#43618f"/>
<circle cx="407.92" cy="221.8" r="2.75" fill="#43618f"/>
<circle cx="424.99" cy="221.8" r="2.75" fill="#43618f"/>
</g>
<use href="#mol" transform="translate(331.07 147.5)"/>
<use href="#mol" transform="translate(399.35 147.5)"/>
<use href="#mol" transform="translate(416.42 147.5)"/>
<use href="#mol" transform="translate(331.07 179.3) rotate(180) rotate(-15)"/>
<use href="#mol" transform="translate(399.35 179.9) rotate(180) rotate(-15)"/>
<use href="#mol" transform="translate(416.42 179.9) rotate(180) rotate(-15)"/>
<use href="#mol" transform="translate(382.35 179.9) rotate(180) rotate(-15)"/>
<use href="#mol" transform="translate(314 197.2)"/>
<use href="#mol" transform="translate(331.07 197.2)"/>
<use href="#mol" transform="translate(348.14 197.2)"/>
<use href="#mol" transform="translate(365.21 197.2)"/>
<use href="#mol" transform="translate(382.28 197.2)"/>
<use href="#mol" transform="translate(399.35 197.2)"/>
<use href="#mol" transform="translate(416.42 197.2)"/>
<circle cx="365.2" cy="235.8" r="1.05" fill="#222"/>
<circle cx="365.2" cy="239.8" r="1.05" fill="#222"/>
<circle cx="365.2" cy="243.8" r="1.05" fill="#222"/>
<text x="301.50" y="257.60" font-size="12" fill="#151515">Non-conformal LD layer</text>
<polygon points="501.3,134.1 510,134.1 508,176 501.3,176" fill="url(#g2D)"/>
<line x1="501.3" y1="175.6" x2="508" y2="175.6" stroke="#f2a878" stroke-width="0.8"/>
<polygon points="501.3,187.2 508,187.2 510,242.8 501.3,242.8" fill="url(#g3D)"/>
<line x1="501.3" y1="187.6" x2="508" y2="187.6" stroke="#6f90c0" stroke-width="0.8"/>
<text x="493.10" y="157.00" font-size="12" text-anchor="middle" fill="#151515" transform="rotate(-90 493.10 157.00)" dominant-baseline="central">2D</text>
<text x="493.10" y="214.70" font-size="12" text-anchor="middle" fill="#151515" transform="rotate(-90 493.10 214.70)" dominant-baseline="central">3D</text>
<g>
<path d="M534.6 156.2L543.1 147.7L551.6 156.2L543.1 164.7ZM551.67 156.2L560.17 147.7L568.67 156.2L560.17 164.7ZM568.74 156.2L577.24 147.7L585.74 156.2L577.24 164.7ZM585.81 156.2L594.31 147.7L602.81 156.2L594.31 164.7ZM602.88 156.2L611.38 147.7L619.88 156.2L611.38 164.7ZM619.95 156.2L628.45 147.7L636.95 156.2L628.45 164.7ZM637.02 156.2L645.52 147.7L654.02 156.2L645.52 164.7ZM654.09 156.2L662.59 147.7L671.09 156.2L662.59 164.7ZM534.6 173.3L543.1 164.8L551.6 173.3L543.1 181.8ZM551.67 173.3L560.17 164.8L568.67 173.3L560.17 181.8ZM568.74 173.3L577.24 164.8L585.74 173.3L577.24 181.8ZM585.81 173.3L594.31 164.8L602.81 173.3L594.31 181.8ZM602.88 173.3L611.38 164.8L619.88 173.3L611.38 181.8ZM619.95 173.3L628.45 164.8L636.95 173.3L628.45 181.8ZM637.02 173.3L645.52 164.8L654.02 173.3L645.52 181.8ZM654.09 173.3L662.59 164.8L671.09 173.3L662.59 181.8Z" fill="none" stroke="#868686" stroke-width="0.7"/>
<circle cx="551.63" cy="164.75" r="2.7" fill="#d9d9d9"/>
<circle cx="568.7" cy="164.75" r="2.7" fill="#d9d9d9"/>
<circle cx="585.77" cy="164.75" r="2.7" fill="#d9d9d9"/>
<circle cx="602.84" cy="164.75" r="2.7" fill="#d9d9d9"/>
<circle cx="619.91" cy="164.75" r="2.7" fill="#d9d9d9"/>
<circle cx="636.98" cy="164.75" r="2.7" fill="#d9d9d9"/>
<circle cx="654.05" cy="164.75" r="2.7" fill="#d9d9d9"/>
<circle cx="534.6" cy="156.2" r="1.55" fill="#c8d6ec"/>
<circle cx="534.6" cy="173.3" r="1.55" fill="#c8d6ec"/>
<circle cx="543.1" cy="147.7" r="1.55" fill="#c8d6ec"/>
<circle cx="543.1" cy="164.7" r="1.55" fill="#c8d6ec"/>
<circle cx="543.1" cy="164.8" r="1.55" fill="#c8d6ec"/>
<circle cx="543.1" cy="181.8" r="1.55" fill="#c8d6ec"/>
<circle cx="551.6" cy="156.2" r="1.55" fill="#c8d6ec"/>
<circle cx="551.6" cy="173.3" r="1.55" fill="#c8d6ec"/>
<circle cx="551.67" cy="156.2" r="1.55" fill="#c8d6ec"/>
<circle cx="551.67" cy="173.3" r="1.55" fill="#c8d6ec"/>
<circle cx="560.17" cy="147.7" r="1.55" fill="#c8d6ec"/>
<circle cx="560.17" cy="164.7" r="1.55" fill="#c8d6ec"/>
<circle cx="560.17" cy="164.8" r="1.55" fill="#c8d6ec"/>
<circle cx="560.17" cy="181.8" r="1.55" fill="#c8d6ec"/>
<circle cx="568.67" cy="156.2" r="1.55" fill="#c8d6ec"/>
<circle cx="568.67" cy="173.3" r="1.55" fill="#c8d6ec"/>
<circle cx="568.74" cy="156.2" r="1.55" fill="#c8d6ec"/>
<circle cx="568.74" cy="173.3" r="1.55" fill="#c8d6ec"/>
<circle cx="577.24" cy="147.7" r="1.55" fill="#c8d6ec"/>
<circle cx="577.24" cy="164.7" r="1.55" fill="#c8d6ec"/>
<circle cx="577.24" cy="164.8" r="1.55" fill="#c8d6ec"/>
<circle cx="577.24" cy="181.8" r="1.55" fill="#c8d6ec"/>
<circle cx="585.74" cy="156.2" r="1.55" fill="#c8d6ec"/>
<circle cx="585.74" cy="173.3" r="1.55" fill="#c8d6ec"/>
<circle cx="585.81" cy="156.2" r="1.55" fill="#c8d6ec"/>
<circle cx="585.81" cy="173.3" r="1.55" fill="#c8d6ec"/>
<circle cx="594.31" cy="147.7" r="1.55" fill="#c8d6ec"/>
<circle cx="594.31" cy="164.7" r="1.55" fill="#c8d6ec"/>
<circle cx="594.31" cy="164.8" r="1.55" fill="#c8d6ec"/>
<circle cx="594.31" cy="181.8" r="1.55" fill="#c8d6ec"/>
<circle cx="602.81" cy="156.2" r="1.55" fill="#c8d6ec"/>
<circle cx="602.81" cy="173.3" r="1.55" fill="#c8d6ec"/>
<circle cx="602.88" cy="156.2" r="1.55" fill="#c8d6ec"/>
<circle cx="602.88" cy="173.3" r="1.55" fill="#c8d6ec"/>
<circle cx="611.38" cy="147.7" r="1.55" fill="#c8d6ec"/>
<circle cx="611.38" cy="164.7" r="1.55" fill="#c8d6ec"/>
<circle cx="611.38" cy="164.8" r="1.55" fill="#c8d6ec"/>
<circle cx="611.38" cy="181.8" r="1.55" fill="#c8d6ec"/>
<circle cx="619.88" cy="156.2" r="1.55" fill="#c8d6ec"/>
<circle cx="619.88" cy="173.3" r="1.55" fill="#c8d6ec"/>
<circle cx="619.95" cy="156.2" r="1.55" fill="#c8d6ec"/>
<circle cx="619.95" cy="173.3" r="1.55" fill="#c8d6ec"/>
<circle cx="628.45" cy="147.7" r="1.55" fill="#c8d6ec"/>
<circle cx="628.45" cy="164.7" r="1.55" fill="#c8d6ec"/>
<circle cx="628.45" cy="164.8" r="1.55" fill="#c8d6ec"/>
<circle cx="628.45" cy="181.8" r="1.55" fill="#c8d6ec"/>
<circle cx="636.95" cy="156.2" r="1.55" fill="#c8d6ec"/>
<circle cx="636.95" cy="173.3" r="1.55" fill="#c8d6ec"/>
<circle cx="637.02" cy="156.2" r="1.55" fill="#c8d6ec"/>
<circle cx="637.02" cy="173.3" r="1.55" fill="#c8d6ec"/>
<circle cx="645.52" cy="147.7" r="1.55" fill="#c8d6ec"/>
<circle cx="645.52" cy="164.7" r="1.55" fill="#c8d6ec"/>
<circle cx="645.52" cy="164.8" r="1.55" fill="#c8d6ec"/>
<circle cx="645.52" cy="181.8" r="1.55" fill="#c8d6ec"/>
<circle cx="654.02" cy="156.2" r="1.55" fill="#c8d6ec"/>
<circle cx="654.02" cy="173.3" r="1.55" fill="#c8d6ec"/>
<circle cx="654.09" cy="156.2" r="1.55" fill="#c8d6ec"/>
<circle cx="654.09" cy="173.3" r="1.55" fill="#c8d6ec"/>
<circle cx="662.59" cy="147.7" r="1.55" fill="#c8d6ec"/>
<circle cx="662.59" cy="164.7" r="1.55" fill="#c8d6ec"/>
<circle cx="662.59" cy="164.8" r="1.55" fill="#c8d6ec"/>
<circle cx="662.59" cy="181.8" r="1.55" fill="#c8d6ec"/>
<circle cx="671.09" cy="156.2" r="1.55" fill="#c8d6ec"/>
<circle cx="671.09" cy="173.3" r="1.55" fill="#c8d6ec"/>
<circle cx="543.1" cy="156.2" r="2.75" fill="#43618f"/>
<circle cx="560.17" cy="156.2" r="2.75" fill="#43618f"/>
<circle cx="577.24" cy="156.2" r="2.75" fill="#43618f"/>
<circle cx="594.31" cy="156.2" r="2.75" fill="#43618f"/>
<circle cx="611.38" cy="156.2" r="2.75" fill="#43618f"/>
<circle cx="628.45" cy="156.2" r="2.75" fill="#43618f"/>
<circle cx="645.52" cy="156.2" r="2.75" fill="#43618f"/>
<circle cx="662.59" cy="156.2" r="2.75" fill="#43618f"/>
<circle cx="543.1" cy="173.3" r="2.75" fill="#43618f"/>
<circle cx="560.17" cy="173.3" r="2.75" fill="#43618f"/>
<circle cx="577.24" cy="173.3" r="2.75" fill="#43618f"/>
<circle cx="594.31" cy="173.3" r="2.75" fill="#43618f"/>
<circle cx="611.38" cy="173.3" r="2.75" fill="#43618f"/>
<circle cx="628.45" cy="173.3" r="2.75" fill="#43618f"/>
<circle cx="645.52" cy="173.3" r="2.75" fill="#43618f"/>
<circle cx="662.59" cy="173.3" r="2.75" fill="#43618f"/>
</g>
<g mask="url(#mc)">
<path d="M534.6 204.6L543.1 196.1L551.6 204.6L543.1 213.1ZM551.67 204.6L560.17 196.1L568.67 204.6L560.17 213.1ZM568.74 204.6L577.24 196.1L585.74 204.6L577.24 213.1ZM585.81 204.6L594.31 196.1L602.81 204.6L594.31 213.1ZM602.88 204.6L611.38 196.1L619.88 204.6L611.38 213.1ZM619.95 204.6L628.45 196.1L636.95 204.6L628.45 213.1ZM637.02 204.6L645.52 196.1L654.02 204.6L645.52 213.1ZM654.09 204.6L662.59 196.1L671.09 204.6L662.59 213.1ZM534.6 221.7L543.1 213.2L551.6 221.7L543.1 230.2ZM551.67 221.7L560.17 213.2L568.67 221.7L560.17 230.2ZM568.74 221.7L577.24 213.2L585.74 221.7L577.24 230.2ZM585.81 221.7L594.31 213.2L602.81 221.7L594.31 230.2ZM602.88 221.7L611.38 213.2L619.88 221.7L611.38 230.2ZM619.95 221.7L628.45 213.2L636.95 221.7L628.45 230.2ZM637.02 221.7L645.52 213.2L654.02 221.7L645.52 230.2ZM654.09 221.7L662.59 213.2L671.09 221.7L662.59 230.2Z" fill="none" stroke="#868686" stroke-width="0.7"/>
<circle cx="551.63" cy="213.13" r="2.7" fill="#d9d9d9"/>
<circle cx="568.7" cy="213.13" r="2.7" fill="#d9d9d9"/>
<circle cx="585.77" cy="213.13" r="2.7" fill="#d9d9d9"/>
<circle cx="602.84" cy="213.13" r="2.7" fill="#d9d9d9"/>
<circle cx="619.91" cy="213.13" r="2.7" fill="#d9d9d9"/>
<circle cx="636.98" cy="213.13" r="2.7" fill="#d9d9d9"/>
<circle cx="654.05" cy="213.13" r="2.7" fill="#d9d9d9"/>
<circle cx="551.63" cy="230.23" r="2.7" fill="#d9d9d9"/>
<circle cx="568.7" cy="230.23" r="2.7" fill="#d9d9d9"/>
<circle cx="585.77" cy="230.23" r="2.7" fill="#d9d9d9"/>
<circle cx="602.84" cy="230.23" r="2.7" fill="#d9d9d9"/>
<circle cx="619.91" cy="230.23" r="2.7" fill="#d9d9d9"/>
<circle cx="636.98" cy="230.23" r="2.7" fill="#d9d9d9"/>
<circle cx="654.05" cy="230.23" r="2.7" fill="#d9d9d9"/>
<circle cx="534.6" cy="204.6" r="1.55" fill="#c8d6ec"/>
<circle cx="534.6" cy="221.7" r="1.55" fill="#c8d6ec"/>
<circle cx="543.1" cy="196.1" r="1.55" fill="#c8d6ec"/>
<circle cx="543.1" cy="213.1" r="1.55" fill="#c8d6ec"/>
<circle cx="543.1" cy="213.2" r="1.55" fill="#c8d6ec"/>
<circle cx="543.1" cy="230.2" r="1.55" fill="#c8d6ec"/>
<circle cx="551.6" cy="204.6" r="1.55" fill="#c8d6ec"/>
<circle cx="551.6" cy="221.7" r="1.55" fill="#c8d6ec"/>
<circle cx="551.67" cy="204.6" r="1.55" fill="#c8d6ec"/>
<circle cx="551.67" cy="221.7" r="1.55" fill="#c8d6ec"/>
<circle cx="560.17" cy="196.1" r="1.55" fill="#c8d6ec"/>
<circle cx="560.17" cy="213.1" r="1.55" fill="#c8d6ec"/>
<circle cx="560.17" cy="213.2" r="1.55" fill="#c8d6ec"/>
<circle cx="560.17" cy="230.2" r="1.55" fill="#c8d6ec"/>
<circle cx="568.67" cy="204.6" r="1.55" fill="#c8d6ec"/>
<circle cx="568.67" cy="221.7" r="1.55" fill="#c8d6ec"/>
<circle cx="568.74" cy="204.6" r="1.55" fill="#c8d6ec"/>
<circle cx="568.74" cy="221.7" r="1.55" fill="#c8d6ec"/>
<circle cx="577.24" cy="196.1" r="1.55" fill="#c8d6ec"/>
<circle cx="577.24" cy="213.1" r="1.55" fill="#c8d6ec"/>
<circle cx="577.24" cy="213.2" r="1.55" fill="#c8d6ec"/>
<circle cx="577.24" cy="230.2" r="1.55" fill="#c8d6ec"/>
<circle cx="585.74" cy="204.6" r="1.55" fill="#c8d6ec"/>
<circle cx="585.74" cy="221.7" r="1.55" fill="#c8d6ec"/>
<circle cx="585.81" cy="204.6" r="1.55" fill="#c8d6ec"/>
<circle cx="585.81" cy="221.7" r="1.55" fill="#c8d6ec"/>
<circle cx="594.31" cy="196.1" r="1.55" fill="#c8d6ec"/>
<circle cx="594.31" cy="213.1" r="1.55" fill="#c8d6ec"/>
<circle cx="594.31" cy="213.2" r="1.55" fill="#c8d6ec"/>
<circle cx="594.31" cy="230.2" r="1.55" fill="#c8d6ec"/>
<circle cx="602.81" cy="204.6" r="1.55" fill="#c8d6ec"/>
<circle cx="602.81" cy="221.7" r="1.55" fill="#c8d6ec"/>
<circle cx="602.88" cy="204.6" r="1.55" fill="#c8d6ec"/>
<circle cx="602.88" cy="221.7" r="1.55" fill="#c8d6ec"/>
<circle cx="611.38" cy="196.1" r="1.55" fill="#c8d6ec"/>
<circle cx="611.38" cy="213.1" r="1.55" fill="#c8d6ec"/>
<circle cx="611.38" cy="213.2" r="1.55" fill="#c8d6ec"/>
<circle cx="611.38" cy="230.2" r="1.55" fill="#c8d6ec"/>
<circle cx="619.88" cy="204.6" r="1.55" fill="#c8d6ec"/>
<circle cx="619.88" cy="221.7" r="1.55" fill="#c8d6ec"/>
<circle cx="619.95" cy="204.6" r="1.55" fill="#c8d6ec"/>
<circle cx="619.95" cy="221.7" r="1.55" fill="#c8d6ec"/>
<circle cx="628.45" cy="196.1" r="1.55" fill="#c8d6ec"/>
<circle cx="628.45" cy="213.1" r="1.55" fill="#c8d6ec"/>
<circle cx="628.45" cy="213.2" r="1.55" fill="#c8d6ec"/>
<circle cx="628.45" cy="230.2" r="1.55" fill="#c8d6ec"/>
<circle cx="636.95" cy="204.6" r="1.55" fill="#c8d6ec"/>
<circle cx="636.95" cy="221.7" r="1.55" fill="#c8d6ec"/>
<circle cx="637.02" cy="204.6" r="1.55" fill="#c8d6ec"/>
<circle cx="637.02" cy="221.7" r="1.55" fill="#c8d6ec"/>
<circle cx="645.52" cy="196.1" r="1.55" fill="#c8d6ec"/>
<circle cx="645.52" cy="213.1" r="1.55" fill="#c8d6ec"/>
<circle cx="645.52" cy="213.2" r="1.55" fill="#c8d6ec"/>
<circle cx="645.52" cy="230.2" r="1.55" fill="#c8d6ec"/>
<circle cx="654.02" cy="204.6" r="1.55" fill="#c8d6ec"/>
<circle cx="654.02" cy="221.7" r="1.55" fill="#c8d6ec"/>
<circle cx="654.09" cy="204.6" r="1.55" fill="#c8d6ec"/>
<circle cx="654.09" cy="221.7" r="1.55" fill="#c8d6ec"/>
<circle cx="662.59" cy="196.1" r="1.55" fill="#c8d6ec"/>
<circle cx="662.59" cy="213.1" r="1.55" fill="#c8d6ec"/>
<circle cx="662.59" cy="213.2" r="1.55" fill="#c8d6ec"/>
<circle cx="662.59" cy="230.2" r="1.55" fill="#c8d6ec"/>
<circle cx="671.09" cy="204.6" r="1.55" fill="#c8d6ec"/>
<circle cx="671.09" cy="221.7" r="1.55" fill="#c8d6ec"/>
<circle cx="543.1" cy="204.6" r="2.75" fill="#43618f"/>
<circle cx="560.17" cy="204.6" r="2.75" fill="#43618f"/>
<circle cx="577.24" cy="204.6" r="2.75" fill="#43618f"/>
<circle cx="594.31" cy="204.6" r="2.75" fill="#43618f"/>
<circle cx="611.38" cy="204.6" r="2.75" fill="#43618f"/>
<circle cx="628.45" cy="204.6" r="2.75" fill="#43618f"/>
<circle cx="645.52" cy="204.6" r="2.75" fill="#43618f"/>
<circle cx="662.59" cy="204.6" r="2.75" fill="#43618f"/>
<circle cx="543.1" cy="221.7" r="2.75" fill="#43618f"/>
<circle cx="560.17" cy="221.7" r="2.75" fill="#43618f"/>
<circle cx="577.24" cy="221.7" r="2.75" fill="#43618f"/>
<circle cx="594.31" cy="221.7" r="2.75" fill="#43618f"/>
<circle cx="611.38" cy="221.7" r="2.75" fill="#43618f"/>
<circle cx="628.45" cy="221.7" r="2.75" fill="#43618f"/>
<circle cx="645.52" cy="221.7" r="2.75" fill="#43618f"/>
<circle cx="662.59" cy="221.7" r="2.75" fill="#43618f"/>
</g>
<use href="#mol" transform="translate(551.6 146.8)"/>
<use href="#mol" transform="translate(551.6 178.2) rotate(180) rotate(-5)"/>
<use href="#mol" transform="translate(551.6 196.6)"/>
<use href="#mol" transform="translate(568.67 146.8)"/>
<use href="#mol" transform="translate(568.67 178.2) rotate(180) rotate(-5)"/>
<use href="#mol" transform="translate(568.67 196.6)"/>
<use href="#mol" transform="translate(585.74 146.8)"/>
<use href="#mol" transform="translate(585.74 178.2) rotate(180) rotate(-5)"/>
<use href="#mol" transform="translate(585.74 196.6)"/>
<use href="#mol" transform="translate(602.81 146.8)"/>
<use href="#mol" transform="translate(602.81 178.2) rotate(180) rotate(-5)"/>
<use href="#mol" transform="translate(602.81 196.6)"/>
<use href="#mol" transform="translate(619.88 146.8)"/>
<use href="#mol" transform="translate(619.88 178.2) rotate(180) rotate(-5)"/>
<use href="#mol" transform="translate(619.88 196.6)"/>
<use href="#mol" transform="translate(636.95 146.8)"/>
<use href="#mol" transform="translate(636.95 178.2) rotate(180) rotate(-5)"/>
<use href="#mol" transform="translate(636.95 196.6)"/>
<use href="#mol" transform="translate(654.02 146.8)"/>
<use href="#mol" transform="translate(654.02 178.2) rotate(180) rotate(-5)"/>
<use href="#mol" transform="translate(654.02 196.6)"/>
<circle cx="602.2" cy="234.2" r="1.05" fill="#222"/>
<circle cx="602.2" cy="238.2" r="1.05" fill="#222"/>
<circle cx="602.2" cy="242.2" r="1.05" fill="#222"/>
<text x="552.00" y="257.20" font-size="12" fill="#151515">Conformal LD layer</text>
<g clip-path="url(#cpd)"><rect x="62.5" y="318.3" width="137.9" height="113.4" fill="#f99a14"/>
<g filter="url(#blur8)">
<ellipse cx="80" cy="335" rx="40" ry="22" fill="#f78e12" fill-opacity="0.75"/>
<ellipse cx="140" cy="327" rx="36" ry="12" fill="#fbaa16" fill-opacity="0.8"/>
<ellipse cx="182" cy="330" rx="26" ry="14" fill="#fbb616" fill-opacity="0.9"/>
<ellipse cx="86" cy="378" rx="42" ry="15" fill="#fed614" fill-opacity="1.0" transform="rotate(-10 86 378)"/>
<ellipse cx="66" cy="380" rx="10" ry="17" fill="#fdd014" fill-opacity="0.9"/>
<ellipse cx="124" cy="358" rx="22" ry="9" fill="#fcbe14" fill-opacity="0.9" transform="rotate(-30 124 358)"/>
<ellipse cx="165" cy="360" rx="25" ry="14" fill="#faa616" fill-opacity="0.6"/>
<ellipse cx="130" cy="408" rx="46" ry="16" fill="#f27812" fill-opacity="1.0" transform="rotate(-15 130 408)"/>
<ellipse cx="180" cy="386" rx="20" ry="12" fill="#f68414" fill-opacity="0.8" transform="rotate(-30 180 386)"/>
<ellipse cx="199" cy="380" rx="6" ry="16" fill="#fcbc16" fill-opacity="0.9"/>
<ellipse cx="75" cy="422" rx="16" ry="10" fill="#f9a014" fill-opacity="0.7"/>
<ellipse cx="190" cy="426" rx="18" ry="8" fill="#fbac16" fill-opacity="0.8"/>
</g>
<rect x="62.5" y="318.3" width="137.9" height="113.4" fill="#fff" filter="url(#grain)" opacity="0.55"/>
</g>
<rect x="62.5" y="318.3" width="137.9" height="113.4" fill="none" stroke="#555" stroke-width="1"/>
<circle cx="175.2" cy="334.9" r="10.3" fill="none" stroke="#1a1a1a" stroke-width="0.9" stroke-dasharray="2.2 1.6"/>
<text x="175.20" y="338.90" font-size="11.5" text-anchor="middle" fill="#151515">1</text>
<circle cx="132.2" cy="374.7" r="10.3" fill="none" stroke="#1a1a1a" stroke-width="0.9" stroke-dasharray="2.2 1.6"/>
<text x="132.20" y="378.70" font-size="11.5" text-anchor="middle" fill="#151515">2</text>
<circle cx="83.6" cy="414.8" r="10.3" fill="none" stroke="#1a1a1a" stroke-width="0.9" stroke-dasharray="2.2 1.6"/>
<text x="83.60" y="418.80" font-size="11.5" text-anchor="middle" fill="#151515">3</text>
<line x1="166" y1="424.1" x2="191.8" y2="424.1" stroke="#000" stroke-width="1.8"/>
<text x="131.30" y="307.80" font-size="12" text-anchor="middle" fill="#151515">CsFAMA</text>
<text x="4.00" y="296.20" font-size="15" font-weight="bold" fill="#000">d</text>
<rect x="36.5" y="327.2" width="8.2" height="95" fill="url(#gHot)" stroke="#4a4a4a" stroke-width="0.8"/>
<text x="40.60" y="324.60" font-size="11" text-anchor="middle" fill="#151515">1</text>
<text x="40.60" y="434.20" font-size="11" text-anchor="middle" fill="#151515">0</text>
<text x="24.20" y="371.50" font-size="11.4" text-anchor="middle" fill="#151515" transform="rotate(-90 24.20 371.50)" dominant-baseline="central">Nor. intensity</text>
<g clip-path="url(#cpe)"><rect x="300.2" y="318.3" width="138.1" height="113.4" fill="#fdd60e"/>
<g filter="url(#blur8)">
<ellipse cx="370" cy="321" rx="80" ry="8" fill="#fcc40c" fill-opacity="0.8"/>
<ellipse cx="350" cy="362" rx="56" ry="32" fill="#fff41a" fill-opacity="1.0" transform="rotate(-15 350 362)"/>
<ellipse cx="304" cy="395" rx="16" ry="26" fill="#fff018" fill-opacity="0.9"/>
<ellipse cx="402" cy="400" rx="42" ry="15" fill="#fab60c" fill-opacity="0.95" transform="rotate(-10 402 400)"/>
<ellipse cx="424" cy="345" rx="20" ry="22" fill="#fdcc0e" fill-opacity="0.7"/>
<ellipse cx="322" cy="424" rx="34" ry="12" fill="#fef016" fill-opacity="0.9"/>
<ellipse cx="418" cy="428" rx="26" ry="7" fill="#fdd410" fill-opacity="0.8"/>
</g>
<rect x="300.2" y="318.3" width="138.1" height="113.4" fill="#fff" filter="url(#grain)" opacity="0.35"/>
</g>
<rect x="300.2" y="318.3" width="138.1" height="113.4" fill="none" stroke="#555" stroke-width="1"/>
<circle cx="414.3" cy="336.2" r="10.3" fill="none" stroke="#1a1a1a" stroke-width="0.9" stroke-dasharray="2.2 1.6"/>
<text x="414.30" y="340.20" font-size="11.5" text-anchor="middle" fill="#151515">1</text>
<circle cx="371.3" cy="376" r="10.3" fill="none" stroke="#1a1a1a" stroke-width="0.9" stroke-dasharray="2.2 1.6"/>
<text x="371.30" y="380.00" font-size="11.5" text-anchor="middle" fill="#151515">2</text>
<circle cx="323" cy="416.7" r="10.3" fill="none" stroke="#1a1a1a" stroke-width="0.9" stroke-dasharray="2.2 1.6"/>
<text x="323.00" y="420.70" font-size="11.5" text-anchor="middle" fill="#151515">3</text>
<line x1="406.3" y1="424.7" x2="432.2" y2="424.7" stroke="#000" stroke-width="1.8"/>
<text x="367.30" y="307.80" font-size="12" text-anchor="middle" fill="#151515">3F-PEA / CsFAMA</text>
<text x="243.60" y="296.20" font-size="15" font-weight="bold" fill="#000">e</text>
<rect x="274.3" y="327.2" width="8.2" height="95" fill="url(#gHot)" stroke="#4a4a4a" stroke-width="0.8"/>
<text x="278.40" y="324.60" font-size="11" text-anchor="middle" fill="#151515">1</text>
<text x="278.40" y="434.20" font-size="11" text-anchor="middle" fill="#151515">0</text>
<text x="262.40" y="371.50" font-size="11.4" text-anchor="middle" fill="#151515" transform="rotate(-90 262.40 371.50)" dominant-baseline="central">Nor. intensity</text>
<g clip-path="url(#cpf)"><rect x="536.6" y="318.3" width="139" height="113.4" fill="#fef400"/>
<g filter="url(#blur8)">
<ellipse cx="600" cy="375" rx="30" ry="30" fill="#fdee02" fill-opacity="0.4"/>
</g>
<rect x="536.6" y="318.3" width="139" height="113.4" fill="#fff" filter="url(#grain)" opacity="0.1"/>
</g>
<rect x="536.6" y="318.3" width="139" height="113.4" fill="none" stroke="#555" stroke-width="1"/>
<circle cx="650.6" cy="336" r="10.3" fill="none" stroke="#1a1a1a" stroke-width="0.9" stroke-dasharray="2.2 1.6"/>
<text x="650.60" y="340.00" font-size="11.5" text-anchor="middle" fill="#151515">1</text>
<circle cx="607.5" cy="376" r="10.3" fill="none" stroke="#1a1a1a" stroke-width="0.9" stroke-dasharray="2.2 1.6"/>
<text x="607.50" y="380.00" font-size="11.5" text-anchor="middle" fill="#151515">2</text>
<circle cx="559.1" cy="416.7" r="10.3" fill="none" stroke="#1a1a1a" stroke-width="0.9" stroke-dasharray="2.2 1.6"/>
<text x="559.10" y="420.70" font-size="11.5" text-anchor="middle" fill="#151515">3</text>
<line x1="643.2" y1="422.9" x2="669" y2="422.9" stroke="#000" stroke-width="1.8"/>
<text x="601.70" y="307.80" font-size="12" text-anchor="middle" fill="#151515">DMS + 3F-PEA / CsFAMA</text>
<text x="482.50" y="296.20" font-size="15" font-weight="bold" fill="#000">f</text>
<rect x="510.4" y="327.2" width="8.2" height="95" fill="url(#gHot)" stroke="#4a4a4a" stroke-width="0.8"/>
<text x="514.50" y="324.60" font-size="11" text-anchor="middle" fill="#151515">1</text>
<text x="514.50" y="434.20" font-size="11" text-anchor="middle" fill="#151515">0</text>
<text x="498.40" y="371.50" font-size="11.4" text-anchor="middle" fill="#151515" transform="rotate(-90 498.40 371.50)" dominant-baseline="central">Nor. intensity</text>
<rect x="53.7" y="446" width="148.7" height="43.7" fill="none" stroke="#8c8c8c" stroke-width="1"/>
<line x1="53.7" y1="489.7" x2="202.4" y2="489.7" stroke="#6a6a6a" stroke-width="1"/>
<line x1="53.7" y1="489.7" x2="53.7" y2="487.5" stroke="#6a6a6a" stroke-width="0.8"/>
<line x1="78.48" y1="489.7" x2="78.48" y2="487.5" stroke="#6a6a6a" stroke-width="0.8"/>
<line x1="103.27" y1="489.7" x2="103.27" y2="487.5" stroke="#6a6a6a" stroke-width="0.8"/>
<line x1="128.05" y1="489.7" x2="128.05" y2="487.5" stroke="#6a6a6a" stroke-width="0.8"/>
<line x1="152.83" y1="489.7" x2="152.83" y2="487.5" stroke="#6a6a6a" stroke-width="0.8"/>
<line x1="177.62" y1="489.7" x2="177.62" y2="487.5" stroke="#6a6a6a" stroke-width="0.8"/>
<line x1="202.4" y1="489.7" x2="202.4" y2="487.5" stroke="#6a6a6a" stroke-width="0.8"/>
<text x="53.70" y="501.70" font-size="11.5" text-anchor="middle" fill="#151515">0.4</text>
<text x="103.27" y="501.70" font-size="11.5" text-anchor="middle" fill="#151515">0.6</text>
<text x="152.83" y="501.70" font-size="11.5" text-anchor="middle" fill="#151515">0.8</text>
<text x="202.40" y="501.70" font-size="11.5" text-anchor="middle" fill="#151515">1.0</text>
<text x="126.15" y="516.40" font-size="11.6" text-anchor="middle" fill="#151515">Normalized intensity</text>
<text x="42.80" y="467.85" font-size="12" text-anchor="middle" fill="#151515" transform="rotate(-90 42.80 467.85)" dominant-baseline="central">Counts</text>
<polyline points="54.59,489.2 55.34,489.19 56.08,489.19 56.82,489.19 57.57,489.18 58.31,489.17 59.05,489.15 59.8,489.13 60.54,489.09 61.28,489.05 62.03,488.99 62.77,488.9 63.51,488.78 64.26,488.63 65,488.43 65.74,488.18 66.49,487.85 67.23,487.45 67.98,486.95 68.72,486.34 69.46,485.62 70.21,484.77 70.95,483.78 71.69,482.65 72.44,481.39 73.18,480 73.92,478.49 74.67,476.89 75.41,475.22 76.15,473.51 76.9,471.82 77.64,470.18 78.38,468.64 79.13,467.25 79.87,466.06 80.61,465.1 81.36,464.4 82.1,464 82.85,463.91 83.59,464.12 84.33,464.64 85.08,465.45 85.82,466.51 86.56,467.79 87.31,469.24 88.05,470.83 88.79,472.49 89.54,474.2 90.28,475.89 91.02,477.54 91.77,479.11 92.51,480.57 93.25,481.91 94,483.12 94.74,484.19 95.48,485.13 96.23,485.93 96.97,486.6 97.72,487.16 98.46,487.62 99.2,487.99 99.95,488.29 100.69,488.52 101.43,488.7 102.18,488.83 102.92,488.94 103.66,489.01 104.41,489.07 105.15,489.11 105.89,489.14 106.64,489.16 107.38,489.17 108.12,489.18 108.87,489.19 109.61,489.19 110.35,489.2" fill="none" stroke="#f5a384" stroke-width="1.15"/>
<polyline points="56.72,489.2 57.47,489.2 58.21,489.19 58.95,489.19 59.7,489.19 60.44,489.19 61.18,489.18 61.93,489.18 62.67,489.17 63.42,489.16 64.16,489.15 64.9,489.13 65.65,489.11 66.39,489.09 67.13,489.06 67.88,489.02 68.62,488.97 69.36,488.91 70.11,488.84 70.85,488.75 71.59,488.65 72.34,488.53 73.08,488.38 73.82,488.21 74.57,488.01 75.31,487.78 76.05,487.51 76.8,487.2 77.54,486.86 78.29,486.47 79.03,486.03 79.77,485.54 80.52,485.01 81.26,484.42 82,483.79 82.75,483.1 83.49,482.37 84.23,481.6 84.98,480.79 85.72,479.95 86.46,479.09 87.21,478.21 87.95,477.32 88.69,476.44 89.44,475.57 90.18,474.73 90.92,473.93 91.67,473.18 92.41,472.5 93.16,471.88 93.9,471.35 94.64,470.91 95.39,470.58 96.13,470.34 96.87,470.22 97.62,470.21 98.36,470.31 99.1,470.52 99.85,470.84 100.59,471.26 101.33,471.77 102.08,472.37 102.82,473.04 103.56,473.78 104.31,474.57 105.05,475.4 105.79,476.26 106.54,477.14 107.28,478.03 108.03,478.91 108.77,479.78 109.51,480.63 110.26,481.44 111,482.22 111.74,482.96 112.49,483.65 113.23,484.3 113.97,484.89 114.72,485.44 115.46,485.94 116.2,486.38 116.95,486.78 117.69,487.14 118.43,487.45 119.18,487.73 119.92,487.97 120.66,488.17 121.41,488.35 122.15,488.5 122.9,488.63 123.64,488.73 124.38,488.82 125.13,488.9 125.87,488.96 126.61,489.01 127.36,489.05 128.1,489.08 128.84,489.11 129.59,489.13 130.33,489.14 131.07,489.16 131.82,489.17 132.56,489.18 133.3,489.18 134.05,489.19 134.79,489.19 135.53,489.19 136.28,489.19 137.02,489.2 137.77,489.2" fill="none" stroke="#93c3e6" stroke-width="1.15"/>
<polyline points="97.43,489.2 98.18,489.19 98.92,489.18 99.66,489.17 100.41,489.15 101.15,489.11 101.89,489.04 102.64,488.93 103.38,488.77 104.12,488.52 104.87,488.15 105.61,487.63 106.35,486.91 107.1,485.95 107.84,484.69 108.59,483.11 109.33,481.19 110.07,478.92 110.82,476.35 111.56,473.54 112.3,470.6 113.05,467.68 113.79,464.92 114.53,462.51 115.28,460.6 116.02,459.34 116.76,458.81 117.51,459.06 118.25,460.07 118.99,461.76 119.74,464 120.48,466.66 121.22,469.54 121.97,472.49 122.71,475.36 123.46,478.03 124.2,480.41 124.94,482.46 125.69,484.16 126.43,485.53 127.17,486.6 127.92,487.4 128.66,487.99 129.4,488.4 130.15,488.69 130.89,488.88 131.63,489.01 132.38,489.09 133.12,489.13 133.86,489.16 134.61,489.18 135.35,489.19 136.09,489.19" fill="none" stroke="#3f70b7" stroke-width="1.15"/>
<text x="73.90" y="464.30" font-size="11.6" text-anchor="middle" fill="#151515">3</text>
<text x="99.40" y="467.60" font-size="11.6" text-anchor="middle" fill="#151515">2</text>
<text x="127.70" y="465.10" font-size="11.6" text-anchor="middle" fill="#151515">1</text>
<rect x="289.6" y="445.6" width="150.8" height="44" fill="none" stroke="#8c8c8c" stroke-width="1"/>
<line x1="289.6" y1="489.6" x2="440.4" y2="489.6" stroke="#6a6a6a" stroke-width="1"/>
<line x1="289.6" y1="489.6" x2="289.6" y2="487.4" stroke="#6a6a6a" stroke-width="0.8"/>
<line x1="314.73" y1="489.6" x2="314.73" y2="487.4" stroke="#6a6a6a" stroke-width="0.8"/>
<line x1="339.87" y1="489.6" x2="339.87" y2="487.4" stroke="#6a6a6a" stroke-width="0.8"/>
<line x1="365" y1="489.6" x2="365" y2="487.4" stroke="#6a6a6a" stroke-width="0.8"/>
<line x1="390.13" y1="489.6" x2="390.13" y2="487.4" stroke="#6a6a6a" stroke-width="0.8"/>
<line x1="415.27" y1="489.6" x2="415.27" y2="487.4" stroke="#6a6a6a" stroke-width="0.8"/>
<line x1="440.4" y1="489.6" x2="440.4" y2="487.4" stroke="#6a6a6a" stroke-width="0.8"/>
<text x="289.60" y="501.60" font-size="11.5" text-anchor="middle" fill="#151515">0.4</text>
<text x="339.87" y="501.60" font-size="11.5" text-anchor="middle" fill="#151515">0.6</text>
<text x="390.13" y="501.60" font-size="11.5" text-anchor="middle" fill="#151515">0.8</text>
<text x="440.40" y="501.60" font-size="11.5" text-anchor="middle" fill="#151515">1.0</text>
<text x="364.80" y="516.30" font-size="11.6" text-anchor="middle" fill="#151515">Normalized intensity</text>
<text x="280.40" y="467.60" font-size="12" text-anchor="middle" fill="#151515" transform="rotate(-90 280.40 467.60)" dominant-baseline="central">Counts</text>
<polyline points="338.71,489.1 339.46,489.09 340.22,489.09 340.97,489.08 341.73,489.06 342.48,489.04 343.23,489 343.99,488.95 344.74,488.87 345.5,488.76 346.25,488.6 347,488.37 347.76,488.06 348.51,487.65 349.27,487.11 350.02,486.41 350.77,485.53 351.53,484.43 352.28,483.11 353.04,481.54 353.79,479.71 354.54,477.64 355.3,475.36 356.05,472.89 356.81,470.31 357.56,467.67 358.31,465.09 359.07,462.64 359.82,460.44 360.58,458.58 361.33,457.14 362.08,456.21 362.84,455.81 363.59,455.98 364.35,456.71 365.1,457.95 365.85,459.65 366.61,461.73 367.36,464.09 368.12,466.63 368.87,469.25 369.62,471.87 370.38,474.39 371.13,476.75 371.89,478.91 372.64,480.84 373.39,482.51 374.15,483.93 374.9,485.12 375.66,486.08 376.41,486.85 377.16,487.45 377.92,487.91 378.67,488.26 379.43,488.52 380.18,488.7 380.93,488.83 381.69,488.92 382.44,488.98 383.2,489.03 383.95,489.05 384.7,489.07 385.46,489.08 386.21,489.09 386.97,489.09" fill="none" stroke="#3f70b7" stroke-width="1.15"/>
<polyline points="347.86,489.1 348.61,489.09 349.37,489.09 350.12,489.09 350.88,489.08 351.63,489.07 352.38,489.06 353.14,489.04 353.89,489.02 354.65,488.99 355.4,488.95 356.15,488.89 356.91,488.82 357.66,488.73 358.42,488.61 359.17,488.45 359.92,488.26 360.68,488.02 361.43,487.73 362.19,487.36 362.94,486.93 363.69,486.41 364.45,485.8 365.2,485.08 365.96,484.26 366.71,483.32 367.46,482.27 368.22,481.1 368.97,479.81 369.73,478.42 370.48,476.94 371.23,475.37 371.99,473.76 372.74,472.11 373.5,470.46 374.25,468.83 375,467.28 375.76,465.82 376.51,464.5 377.27,463.34 378.02,462.39 378.77,461.65 379.53,461.16 380.28,460.92 381.04,460.95 381.79,461.24 382.54,461.78 383.3,462.56 384.05,463.56 384.81,464.75 385.56,466.1 386.31,467.58 387.07,469.15 387.82,470.78 388.58,472.44 389.33,474.08 390.08,475.69 390.84,477.24 391.59,478.71 392.35,480.08 393.1,481.34 393.85,482.49 394.61,483.52 395.36,484.43 396.12,485.23 396.87,485.93 397.62,486.52 398.38,487.02 399.13,487.44 399.89,487.79 400.64,488.07 401.39,488.3 402.15,488.49 402.9,488.63 403.66,488.75 404.41,488.84 405.16,488.91 405.92,488.96 406.67,489 407.43,489.03 408.18,489.05 408.93,489.06 409.69,489.07 410.44,489.08 411.2,489.09 411.95,489.09 412.7,489.09" fill="none" stroke="#93c3e6" stroke-width="1.15"/>
<polyline points="375.91,489.09 376.66,489.09 377.42,489.08 378.17,489.06 378.92,489.03 379.68,488.98 380.43,488.89 381.19,488.75 381.94,488.53 382.69,488.2 383.45,487.71 384.2,487 384.96,486.03 385.71,484.73 386.46,483.06 387.22,480.97 387.97,478.45 388.73,475.54 389.48,472.31 390.23,468.87 390.99,465.4 391.74,462.1 392.5,459.17 393.25,456.84 394,455.28 394.76,454.62 395.51,454.91 396.27,456.12 397.02,458.16 397.77,460.87 398.53,464.05 399.28,467.48 400.04,470.95 400.79,474.28 401.54,477.33 402.3,480.01 403.05,482.27 403.81,484.11 404.56,485.56 405.31,486.65 406.07,487.45 406.82,488.02 407.58,488.42 408.33,488.68 409.08,488.85 409.84,488.95 410.59,489.02 411.35,489.05 412.1,489.07 412.85,489.09 413.61,489.09" fill="none" stroke="#f5a384" stroke-width="1.15"/>
<text x="351.80" y="461.40" font-size="11.6" text-anchor="middle" fill="#151515">1</text>
<text x="379.50" y="458.90" font-size="11.6" text-anchor="middle" fill="#151515">2</text>
<text x="405.50" y="459.60" font-size="11.6" text-anchor="middle" fill="#151515">3</text>
<rect x="525.5" y="445.9" width="151.6" height="44.1" fill="none" stroke="#8c8c8c" stroke-width="1"/>
<line x1="525.5" y1="490" x2="677.1" y2="490" stroke="#6a6a6a" stroke-width="1"/>
<line x1="525.5" y1="490" x2="525.5" y2="487.8" stroke="#6a6a6a" stroke-width="0.8"/>
<line x1="550.77" y1="490" x2="550.77" y2="487.8" stroke="#6a6a6a" stroke-width="0.8"/>
<line x1="576.03" y1="490" x2="576.03" y2="487.8" stroke="#6a6a6a" stroke-width="0.8"/>
<line x1="601.3" y1="490" x2="601.3" y2="487.8" stroke="#6a6a6a" stroke-width="0.8"/>
<line x1="626.57" y1="490" x2="626.57" y2="487.8" stroke="#6a6a6a" stroke-width="0.8"/>
<line x1="651.83" y1="490" x2="651.83" y2="487.8" stroke="#6a6a6a" stroke-width="0.8"/>
<line x1="677.1" y1="490" x2="677.1" y2="487.8" stroke="#6a6a6a" stroke-width="0.8"/>
<text x="525.50" y="502.00" font-size="11.5" text-anchor="middle" fill="#151515">0.4</text>
<text x="576.03" y="502.00" font-size="11.5" text-anchor="middle" fill="#151515">0.6</text>
<text x="626.57" y="502.00" font-size="11.5" text-anchor="middle" fill="#151515">0.8</text>
<text x="677.10" y="502.00" font-size="11.5" text-anchor="middle" fill="#151515">1.0</text>
<text x="601.30" y="516.70" font-size="11.6" text-anchor="middle" fill="#151515">Normalized intensity</text>
<text x="515.10" y="467.95" font-size="12" text-anchor="middle" fill="#151515" transform="rotate(-90 515.10 467.95)" dominant-baseline="central">Counts</text>
<polyline points="606.35,489.5 607.11,489.49 607.87,489.49 608.63,489.48 609.39,489.47 610.14,489.45 610.9,489.43 611.66,489.39 612.42,489.34 613.18,489.26 613.93,489.16 614.69,489.01 615.45,488.82 616.21,488.56 616.97,488.22 617.72,487.78 618.48,487.22 619.24,486.52 620,485.67 620.76,484.64 621.51,483.42 622.27,482.01 623.03,480.41 623.79,478.61 624.55,476.65 625.3,474.56 626.06,472.37 626.82,470.14 627.58,467.93 628.34,465.81 629.09,463.86 629.85,462.14 630.61,460.73 631.37,459.67 632.13,459.02 632.88,458.8 633.64,459.02 634.4,459.67 635.16,460.73 635.92,462.14 636.67,463.86 637.43,465.81 638.19,467.93 638.95,470.14 639.71,472.37 640.46,474.56 641.22,476.65 641.98,478.61 642.74,480.41 643.5,482.01 644.25,483.42 645.01,484.64 645.77,485.67 646.53,486.52 647.29,487.22 648.04,487.78 648.8,488.22 649.56,488.56 650.32,488.82 651.08,489.01 651.83,489.16 652.59,489.26 653.35,489.34 654.11,489.39 654.87,489.43 655.62,489.45 656.38,489.47 657.14,489.48 657.9,489.49 658.66,489.49 659.41,489.5" fill="none" stroke="#93c3e6" stroke-width="1.15"/>
<polyline points="614.89,489.5 615.65,489.49 616.41,489.48 617.17,489.47 617.93,489.45 618.68,489.42 619.44,489.37 620.2,489.3 620.96,489.19 621.72,489.02 622.47,488.78 623.23,488.44 623.99,487.97 624.75,487.33 625.51,486.5 626.26,485.44 627.02,484.11 627.78,482.48 628.54,480.55 629.3,478.32 630.05,475.82 630.81,473.1 631.57,470.23 632.33,467.31 633.09,464.47 633.84,461.84 634.6,459.55 635.36,457.72 636.12,456.47 636.88,455.85 637.63,455.92 638.39,456.67 639.15,458.05 639.91,459.97 640.67,462.34 641.42,465.03 642.18,467.89 642.94,470.81 643.7,473.66 644.46,476.34 645.21,478.79 645.97,480.96 646.73,482.83 647.49,484.4 648.25,485.67 649,486.69 649.76,487.47 650.52,488.07 651.28,488.51 652.04,488.83 652.79,489.06 653.55,489.21 654.31,489.32 655.07,489.39 655.83,489.43 656.58,489.46 657.34,489.48 658.1,489.49 658.86,489.49" fill="none" stroke="#3f70b7" stroke-width="1.15"/>
<polyline points="623.28,489.49 624.04,489.49 624.8,489.48 625.56,489.47 626.31,489.44 627.07,489.4 627.83,489.34 628.59,489.24 629.35,489.09 630.1,488.86 630.86,488.54 631.62,488.07 632.38,487.43 633.14,486.56 633.89,485.43 634.65,483.99 635.41,482.2 636.17,480.04 636.93,477.52 637.68,474.67 638.44,471.54 639.2,468.24 639.96,464.89 640.72,461.65 641.47,458.68 642.23,456.15 642.99,454.22 643.75,453.01 644.51,452.6 645.26,453.01 646.02,454.22 646.78,456.15 647.54,458.68 648.3,461.65 649.05,464.89 649.81,468.24 650.57,471.54 651.33,474.67 652.09,477.52 652.84,480.04 653.6,482.2 654.36,483.99 655.12,485.43 655.88,486.56 656.63,487.43 657.39,488.07 658.15,488.54 658.91,488.86 659.67,489.09 660.42,489.24 661.18,489.34 661.94,489.4 662.7,489.44 663.46,489.47 664.21,489.48 664.97,489.49 665.73,489.49" fill="none" stroke="#f5a384" stroke-width="1.15"/>
<text x="631.30" y="457.60" font-size="11.6" text-anchor="middle" fill="#151515">1</text>
<text x="618.70" y="468.00" font-size="11.6" text-anchor="middle" fill="#151515">2</text>
<text x="653.90" y="459.60" font-size="11.6" text-anchor="middle" fill="#151515">3</text>
<text x="-1.60" y="555.50" font-size="15" font-weight="bold" fill="#000">g</text>
<g clip-path="url(#cpg)">
<polygon points="38.3,574.7 38.7,574.7 38.9,574.7 38.7,575.5 38.8,576.1 39.1,576.7 39.6,577.1 40.4,577.4 41.6,577.4 41.4,578.1 41.4,578.8 41.8,579.4 42.6,579.9 42.8,580.6 43.0,581.3 43.2,582.1 43.1,582.9 43.2,583.8 43.4,584.5 43.9,585.2 44.2,586.0 44.4,586.8 44.6,587.6 44.9,588.4 45.1,589.2 45.4,590.0 45.6,590.7 45.9,591.5 46.1,592.3 46.4,593.0 46.6,593.8 46.9,594.6 47.2,595.3 47.4,596.1 47.7,596.9 47.9,597.6 48.2,598.4 48.4,599.2 48.7,599.9 49.0,600.7 49.2,601.4 49.5,602.2 49.7,603.0 49.7,603.8 49.9,604.6 50.3,605.3 50.8,606.0 51.0,606.7 51.3,607.5 51.5,608.3 51.3,609.3 51.2,610.2 51.4,611.0 51.9,611.7 52.9,612.1 52.4,613.3 52.0,614.3 52.1,615.2 52.5,616.0 53.3,616.5 54.5,616.9 54.7,617.7 55.0,618.5 55.5,619.2 56.2,619.7 56.3,620.6 55.4,622.0 55.4,623.0 55.6,623.8 56.0,624.5 56.7,625.0 57.8,625.3 59.2,625.5 59.5,626.2 59.9,626.9 60.2,627.6 60.6,628.3 60.9,629.0 61.3,629.7 61.4,630.6 61.2,631.6 61.3,632.4 61.8,633.1 62.5,633.6 63.4,634.0 63.8,634.8 64.1,635.5 64.5,636.2 64.0,637.4 63.9,638.3 64.2,639.1 64.8,639.7 66.1,639.9 66.7,640.5 67.1,641.3 67.4,642.0 67.6,642.8 67.7,643.6 68.1,644.3 68.8,644.9 69.3,645.6 69.1,646.5 69.2,647.4 69.5,648.2 70.1,648.8 71.2,649.1 71.5,649.8 71.9,650.5 72.0,651.4 71.8,652.4 72.0,653.2 72.5,653.9 73.2,654.4 74.2,654.8 74.6,655.5 74.9,656.2 75.3,656.9 75.3,657.9 75.4,658.7 75.8,659.4 76.3,660.0 76.5,660.8 76.4,661.8 76.6,662.6 77.0,663.3 77.5,663.9 78.4,664.4 79.4,664.7 79.6,665.5 79.9,666.2 80.5,666.8 80.3,667.8 80.3,668.8 80.5,669.5 80.9,670.2 81.4,670.9 82.0,671.4 82.8,671.9 83.5,672.4 83.6,673.3 83.9,674.0 84.4,674.7 84.5,675.5 84.8,676.2 85.4,676.8 85.4,677.8 85.3,678.7 85.4,679.5 85.9,680.2 86.5,680.8 87.6,681.1 88.4,681.6 88.8,682.3 89.1,683.0 89.5,683.7 89.9,684.5 90.3,685.2 90.7,685.9 91.0,686.6 91.4,687.3 91.3,688.3 91.5,689.1 92.0,689.8 92.5,690.4 92.7,691.3 92.7,692.2 93.0,693.0 93.7,693.5 95.0,693.7 95.4,694.4 95.8,695.2 96.2,695.9 96.0,696.9 95.7,698.0 95.8,698.9 96.1,699.7 96.7,700.3 97.6,700.7 98.0,701.3 98.3,702.1 98.7,702.8 99.2,703.5 99.5,704.2 100.0,704.9 100.8,705.4 101.9,705.6 102.3,706.4 102.7,707.0 103.2,707.7 103.2,708.6 103.3,709.5 103.7,710.2 104.2,710.9 104.6,711.6 105.0,712.3 105.5,712.9 106.2,713.4 106.2,714.4 106.4,715.2 106.9,715.9 107.5,716.4 107.9,717.1 108.0,718.0 108.4,718.7 109.1,719.2 110.2,719.4 110.8,720.0 111.2,720.7 111.6,721.4 112.1,722.1 112.5,722.7 112.9,723.4 113.4,724.1 113.8,724.8 113.6,725.9 113.7,726.8 114.1,727.6 114.7,728.1 115.6,728.5 116.4,728.9 116.9,729.6 117.3,730.3 117.8,730.9 117.8,731.8 118.2,732.6 118.8,733.2 119.5,733.6 120.0,734.3 120.3,735.0 120.5,735.8 120.9,736.5 121.6,737.0 122.2,737.6 122.5,738.4 122.8,739.1 123.4,739.6 123.8,740.4 124.2,741.0 124.4,741.9 124.7,742.6 125.0,743.3 125.3,744.0 125.7,744.7 126.3,745.3 127.3,745.6 127.5,746.4 127.9,747.1 128.6,747.6 128.7,748.4 128.8,749.3 129.1,750.0 129.2,750.9 129.3,751.8 129.6,752.6 130.2,753.1 131.0,753.6 132.4,753.6 132.8,754.3 133.2,755.0 133.6,755.7 134.0,756.3 134.2,757.2 134.6,757.9 134.9,758.6 135.1,759.4 135.6,760.0 136.5,760.4 136.9,761.1 136.8,762.1 136.7,763.1 137.0,763.8 137.5,764.4 138.3,764.9 139.4,765.2 139.8,765.9 140.2,766.6 140.6,767.2 141.0,767.9 141.4,768.6 141.8,769.3 141.1,770.7 141.0,771.6 141.3,772.4 141.9,772.9 143.1,773.2 169.5,757.2 168.8,756.7 168.1,756.2 167.4,755.6 166.7,755.1 166.0,754.6 165.3,754.1 164.6,753.5 163.9,753.0 163.2,752.5 162.5,751.9 162.0,751.3 161.6,750.6 160.9,750.1 160.2,749.5 159.8,748.9 159.1,748.3 158.3,747.9 157.2,747.6 156.3,747.2 155.6,746.6 155.0,746.1 154.3,745.6 153.6,745.0 152.9,744.5 152.2,744.0 151.7,743.3 151.4,742.6 150.9,741.9 149.1,742.1 148.1,741.8 147.3,741.3 146.7,740.8 146.1,740.2 145.4,739.6 144.8,739.1 144.5,738.3 144.2,737.5 143.7,736.9 142.9,736.4 141.9,736.1 141.1,735.6 140.5,735.1 140.3,734.2 139.9,733.5 139.2,733.0 138.3,732.6 137.4,732.2 136.8,731.6 136.3,731.0 135.9,730.3 135.3,729.7 134.6,729.2 134.1,728.6 133.7,727.9 133.2,727.3 132.5,726.7 131.7,726.4 131.0,725.9 130.9,724.9 131.3,723.7 131.2,722.8 130.9,722.1 130.3,721.5 129.7,721.0 128.7,720.7 127.0,720.9 126.6,720.2 126.1,719.6 125.7,718.9 125.2,718.3 124.8,717.6 124.4,717.0 123.9,716.3 123.5,715.6 123.1,715.0 122.6,714.3 122.2,713.7 121.7,713.0 121.4,712.2 121.0,711.6 120.9,710.7 120.7,709.9 120.3,709.2 119.7,708.6 119.0,708.1 118.3,707.6 117.8,707.0 117.4,706.3 116.9,705.7 116.6,705.0 116.7,704.0 116.5,703.1 116.2,702.4 115.6,701.8 114.8,701.4 114.8,700.5 115.0,699.4 114.8,698.6 114.3,698.0 113.3,697.6 111.8,697.6 111.4,697.0 111.0,696.3 110.6,695.6 110.1,695.0 109.8,694.2 109.7,693.4 109.4,692.6 108.9,692.0 108.2,691.5 107.7,690.9 107.2,690.2 106.8,689.6 106.4,688.9 106.4,688.0 106.2,687.2 105.9,686.5 105.3,685.9 104.5,685.5 104.5,684.6 104.6,683.7 104.4,682.9 104.0,682.2 103.5,681.6 103.5,680.7 103.1,680.0 102.5,679.4 101.4,679.1 101.1,678.4 100.7,677.7 100.2,677.1 99.8,676.4 99.6,675.6 99.1,674.9 98.7,674.2 99.0,673.2 98.9,672.3 98.6,671.6 97.9,671.0 96.9,670.7 96.1,670.2 96.3,669.2 96.1,668.4 95.6,667.7 94.9,667.2 93.9,666.8 93.6,666.1 93.2,665.4 92.8,664.7 92.9,663.7 93.5,662.4 93.4,661.6 92.9,660.9 92.1,660.5 91.1,660.1 90.4,659.6 90.0,658.9 89.3,658.3 88.8,657.7 88.4,657.0 88.0,656.3 87.7,655.6 87.8,654.6 87.6,653.8 87.2,653.1 87.7,651.9 88.0,650.8 87.9,650.0 87.6,649.2 87.1,648.6 86.3,648.1 85.0,647.9 83.4,647.9 82.9,647.3 83.1,646.3 83.2,645.3 82.9,644.5 82.4,643.9 81.4,643.5 80.6,643.1 80.2,642.4 80.0,641.6 79.9,640.8 79.7,640.0 79.4,639.2 78.8,638.6 78.5,637.9 78.6,637.0 78.3,636.2 77.8,635.6 76.9,635.1 76.0,634.7 75.6,634.0 75.3,633.3 74.9,632.6 74.5,631.9 74.1,631.2 73.8,630.5 73.5,629.8 73.5,628.9 73.2,628.1 73.0,627.3 72.6,626.7 71.9,626.1 71.2,625.6 70.9,624.8 70.6,624.1 70.1,623.5 70.0,622.6 69.9,621.7 69.6,621.0 69.2,620.2 68.8,619.5 68.6,618.7 68.3,618.0 67.7,617.4 66.9,617.0 66.3,616.4 65.9,615.7 65.5,615.0 65.2,614.3 64.8,613.6 64.5,612.9 64.1,612.3 63.8,611.6 63.5,610.9 63.5,610.0 63.6,609.1 63.5,608.4 63.1,607.7 62.6,607.1 61.7,606.6 61.3,605.9 61.3,605.0 61.1,604.3 60.5,603.7 59.6,603.2 59.3,602.5 58.9,601.8 58.9,600.9 58.6,600.2 58.2,599.4 57.9,598.7 57.3,598.1 57.3,597.2 57.3,596.4 56.9,595.6 56.3,595.1 55.4,594.6 55.0,593.9 56.0,592.6 56.2,591.7 55.9,590.9 55.4,590.3 54.3,589.8 53.4,589.4 52.6,588.8 52.3,588.1 52.0,587.4 51.8,586.6 51.3,585.9 52.7,584.7 52.9,583.8 52.7,583.1 52.1,582.5 49.8,582.4 49.5,581.7 49.4,580.9 49.2,580.1 48.7,579.4 48.2,578.6 47.9,577.9 47.5,577.1 47.2,576.3 46.8,575.4 46.2,574.6 45.8,573.7 45.2,573.0 45.0,572.1 44.7,571.1 44.0,570.3 42.9,569.7 41.6,569.1 40.4,569.0" fill="#4472b5"/>
<path d="M136 745 L138 740 C141 738.5 145 739 148 740.5 C150 741 152 741.5 153.5 742.5 L154.5 745 Z" fill="#4472b5"/>
<polygon points="36.5,565.4 36.2,566.5 36.3,567.5 36.8,568.6 37.6,569.6 38.5,570.1 39.6,570.3 40.9,570.2 41.4,570.9 42.0,571.5 42.6,572.2 43.2,572.8 43.9,573.4 44.5,574.0 45.2,574.6 45.8,575.2 46.5,575.7 47.0,576.6 47.6,577.3 48.2,577.9 49.0,578.2 49.9,578.4 50.6,578.8 51.2,579.3 51.9,579.8 52.6,580.2 53.2,580.6 53.8,581.2 54.3,581.8 54.6,582.7 55.2,583.2 55.9,583.5 56.8,583.6 57.9,583.5 58.6,583.9 59.3,584.3 60.0,584.8 60.7,585.2 61.4,585.6 62.1,586.0 62.8,586.4 63.5,586.8 64.2,587.3 64.9,587.7 65.6,588.1 66.3,588.5 67.0,588.9 67.7,589.3 68.4,589.7 69.1,590.1 69.3,591.4 69.8,592.1 70.5,592.4 71.5,592.4 72.6,592.0 73.3,592.4 73.9,592.9 74.6,593.4 75.3,593.6 76.0,594.0 76.7,594.4 77.4,594.8 78.2,595.2 78.9,595.6 79.6,596.0 80.3,596.4 81.0,596.8 81.7,597.2 82.3,597.6 82.6,598.8 83.1,599.6 83.8,600.1 84.6,600.3 85.4,600.4 86.6,600.0 87.3,600.3 88.0,600.7 88.7,601.1 89.1,602.1 89.5,603.0 90.1,603.6 90.9,603.8 92.1,603.3 92.9,603.4 93.6,603.7 94.3,604.1 95.0,604.5 95.7,604.9 96.4,605.3 97.1,605.6 97.8,606.0 98.5,606.4 98.5,608.2 98.9,609.2 99.4,609.8 100.2,610.2 101.1,610.2 102.4,609.5 102.9,610.2 103.4,610.9 104.1,611.4 104.9,611.6 106.0,611.3 107.0,611.1 107.7,611.4 108.5,611.8 109.2,612.2 109.9,612.6 110.7,613.0 111.4,613.3 112.1,613.7 112.9,614.1 113.6,614.4 114.4,614.8 114.5,616.6 115.1,617.3 115.8,617.7 116.7,617.8 117.8,617.4 118.9,616.9 119.4,617.9 119.7,619.3 120.3,620.0 121.0,620.4 121.9,620.5 122.8,620.3 123.9,619.9 124.6,620.3 125.4,620.6 126.0,621.2 126.6,622.1 127.3,622.5 128.1,622.6 129.1,622.3 130.2,621.7 130.7,622.6 131.4,623.0 132.2,623.2 132.9,623.8 133.5,624.4 134.3,624.8 135.1,624.9 135.8,625.3 136.4,625.9 137.1,626.3 137.9,626.5 138.8,626.4 139.9,625.9 140.7,626.0 141.5,626.1 142.2,626.4 143.0,626.7 143.7,626.9 144.5,627.2 145.2,627.5 146.0,627.8 146.7,628.1 147.5,628.4 148.2,628.7 149.0,628.9 149.7,629.2 150.2,630.2 150.8,630.9 151.5,631.4 152.2,631.6 153.1,631.5 154.1,630.9 154.7,631.7 155.3,632.4 155.9,632.8 156.7,632.9 157.7,632.7 158.5,632.7 159.3,633.0 160.0,633.3 160.8,633.6 161.5,633.9 162.3,634.2 163.0,634.6 163.6,635.1 164.3,635.7 164.8,636.5 165.5,637.0 166.2,637.4 166.9,637.8 167.7,637.9 168.6,637.7 169.6,637.3 170.3,637.9 170.7,639.1 171.3,639.8 172.0,640.1 172.8,640.2 173.8,640.0 174.7,639.8 175.5,639.9 176.4,639.8 177.1,640.1 177.9,640.4 178.6,640.7 179.3,641.0 180.1,641.3 180.8,641.8 181.4,642.4 182.1,642.9 182.8,643.1 183.5,643.5 184.1,644.3 184.7,644.8 185.5,645.0 186.2,645.5 186.9,645.8 187.8,645.7 188.8,645.3 189.5,645.7 190.3,645.9 191.2,645.8 191.9,646.1 192.7,646.4 193.4,646.7 194.0,647.3 194.7,647.8 194.9,649.4 195.5,650.1 196.3,650.5 197.1,650.5 198.3,649.7 199.0,650.1 199.7,650.3 200.3,651.0 201.0,651.4 201.8,651.6 202.8,651.3 203.6,651.3 204.3,651.7 205.2,651.7 206.0,651.8 206.8,652.1 207.5,652.4 208.2,652.7 215.2,634.4 214.5,634.0 213.7,633.8 212.8,634.0 211.4,635.6 210.6,635.3 210.1,634.5 209.4,634.1 208.6,633.8 207.8,633.7 206.9,633.9 206.1,633.7 205.3,633.4 204.6,633.2 203.8,632.9 203.0,632.6 202.3,632.3 201.5,632.1 200.8,631.8 200.0,631.5 199.3,631.3 198.5,631.0 197.8,630.7 197.4,629.5 196.7,628.9 196.0,628.6 195.1,628.7 194.2,628.7 193.6,628.1 192.9,627.8 192.1,627.7 191.2,627.8 190.6,627.2 189.8,626.9 188.9,626.9 188.3,626.4 187.6,626.0 186.8,625.7 186.0,625.7 185.2,625.5 184.5,625.0 183.8,624.6 183.1,624.2 182.3,624.1 181.6,623.7 180.8,623.5 179.9,623.6 178.9,624.1 178.1,623.8 177.7,622.5 177.2,621.6 176.6,621.1 175.8,620.9 174.9,620.9 173.9,621.4 172.9,621.9 172.1,621.7 171.3,621.4 170.8,620.6 170.2,619.9 169.5,619.4 168.7,619.3 167.8,619.5 167.1,619.1 166.3,619.0 165.4,619.1 164.6,619.0 163.8,618.7 163.0,618.5 162.4,617.9 161.7,617.6 160.8,617.6 160.0,617.4 159.2,617.1 158.5,616.9 157.7,616.6 156.9,616.3 156.2,616.1 155.4,615.8 154.6,615.6 153.9,615.3 153.4,614.3 152.8,613.4 152.1,612.9 151.4,612.7 150.5,612.8 149.4,613.3 148.6,613.4 147.8,613.3 147.0,613.0 146.3,612.8 145.5,612.5 144.7,612.3 144.0,612.0 143.2,611.8 142.6,611.3 141.9,610.6 141.2,610.3 140.5,610.1 139.6,610.2 138.8,610.1 138.0,609.9 137.2,609.7 136.5,609.5 135.8,609.2 135.0,608.9 134.3,608.7 133.5,608.4 132.8,608.1 132.1,607.9 131.3,607.6 130.7,607.1 130.1,606.4 129.4,606.0 128.7,605.9 127.9,605.5 127.5,604.6 126.8,604.2 126.1,604.0 125.4,603.7 124.7,603.2 123.9,603.1 123.1,603.1 122.1,603.4 121.5,603.1 120.9,602.5 120.2,602.2 119.3,602.3 118.4,602.4 117.8,601.9 117.3,601.0 116.7,600.6 115.9,600.5 114.9,600.8 114.1,600.5 113.4,600.1 113.1,599.1 112.5,598.4 111.9,598.0 111.1,597.9 110.1,598.0 109.2,598.1 108.7,597.3 108.2,596.6 107.5,596.1 106.8,595.9 105.9,595.9 104.9,595.9 104.4,595.1 103.8,594.6 103.1,594.2 102.3,594.1 101.3,594.2 100.6,593.8 99.9,593.5 99.2,593.1 98.4,592.7 97.7,592.4 97.0,592.0 96.3,591.7 95.8,590.9 95.2,590.4 94.4,590.1 93.4,590.3 92.9,589.5 92.4,588.7 91.8,588.2 91.1,587.9 90.2,587.8 89.5,587.5 88.6,587.4 87.9,587.1 87.5,586.2 86.8,585.7 86.1,585.5 85.1,585.5 84.2,585.6 83.5,585.3 82.9,584.7 82.1,584.4 81.3,584.2 80.7,583.7 79.9,583.5 79.2,583.1 78.5,582.7 78.2,581.7 77.6,581.0 77.0,580.5 76.2,580.2 75.3,580.2 74.2,580.6 73.5,580.2 72.8,579.8 72.1,579.5 71.6,578.7 71.1,578.1 70.3,577.8 69.5,577.7 68.6,577.6 67.9,577.3 67.2,576.9 66.5,576.5 65.9,576.1 65.2,575.8 64.5,575.4 63.8,575.0 63.2,574.6 62.7,573.8 62.0,573.4 61.1,573.4 60.3,573.0 59.6,572.6 58.9,572.2 58.1,571.8 57.5,571.3 56.8,570.8 56.1,570.5 55.3,570.2 54.9,569.3 54.7,568.2 54.2,567.6 53.6,567.1 52.9,566.9 52.1,566.9 51.1,567.2 49.9,567.6 49.3,567.3 48.5,567.2 48.0,566.6 47.5,566.2 46.7,566.0 46.0,565.7 45.1,565.6 44.5,565.2 43.9,564.7 43.4,564.3 43.0,564.0 42.6,563.6 42.1,563.0 41.6,562.4" fill="#fca881"/>
<polygon points="36.9,570.0 37.2,570.7 37.7,571.2 38.6,571.4 38.7,572.2 38.6,573.1 38.9,573.7 39.4,574.2 40.5,574.3 41.0,574.9 41.3,575.6 41.6,576.3 41.8,577.1 42.0,577.9 41.9,578.9 42.0,579.7 42.5,580.4 43.3,580.9 43.9,581.6 44.3,582.4 44.6,583.1 45.0,583.8 45.3,584.6 45.6,585.3 45.6,586.3 45.9,587.1 46.5,587.7 47.2,588.2 47.6,589.0 47.9,589.7 48.3,590.4 48.6,591.2 49.0,591.9 49.4,592.7 50.0,593.3 50.4,594.1 50.8,594.8 50.9,595.7 51.1,596.6 51.5,597.4 52.1,598.0 52.3,598.9 52.5,599.8 53.0,600.4 53.8,600.8 54.9,601.1 55.4,601.7 55.9,602.4 56.4,603.0 56.9,603.7 57.4,604.3 57.9,605.0 58.4,605.7 58.7,606.5 59.2,607.2 59.4,608.0 59.9,608.7 60.6,609.2 61.6,609.4 62.1,610.0 62.7,610.7 63.0,611.4 63.2,612.4 63.6,613.2 64.2,613.7 65.0,614.1 65.6,614.6 66.2,615.2 66.7,615.9 66.8,616.9 67.1,617.7 67.7,618.3 68.5,618.7 69.0,619.3 69.6,619.8 70.5,620.1 71.4,620.3 72.0,620.9 72.5,621.5 72.2,622.9 72.4,623.8 72.8,624.5 73.4,625.0 74.2,625.3 75.4,625.3 76.3,625.6 76.8,626.2 77.4,626.8 77.9,627.3 78.5,627.9 79.0,628.5 79.5,629.2 79.5,630.3 79.9,631.1 80.5,631.6 81.4,631.9 82.3,632.1 82.4,633.1 82.5,634.2 82.9,634.9 83.4,635.5 84.1,636.0 85.1,636.2 86.3,636.2 86.8,636.7 87.4,637.3 87.9,638.0 88.5,638.5 89.1,639.1 89.6,639.7 89.9,640.6 90.4,641.2 91.2,641.6 91.8,642.1 92.1,643.0 92.5,643.7 93.1,644.2 93.9,644.6 94.8,644.8 95.4,645.4 95.7,646.2 96.2,646.9 96.8,647.4 97.7,647.7 98.1,648.4 98.6,649.1 99.1,649.7 99.7,650.3 100.2,651.0 100.8,651.5 101.4,652.0 101.8,652.8 102.4,653.4 103.1,653.8 104.1,653.9 104.8,654.4 105.4,654.9 106.0,655.5 106.6,656.0 107.2,656.6 107.8,657.1 108.4,657.7 109.0,658.2 109.6,658.9 109.8,659.9 110.2,660.7 110.8,661.3 111.5,661.7 112.4,661.9 113.0,662.5 113.3,663.3 113.9,663.9 114.6,664.3 115.2,664.9 115.8,665.5 116.6,665.7 117.7,665.7 118.3,666.2 118.8,666.9 119.4,667.4 120.2,667.8 120.8,668.3 121.4,668.8 122.0,669.4 122.7,669.9 123.3,670.4 123.9,670.9 124.6,671.4 125.2,671.9 125.8,672.5 126.4,673.1 126.9,673.7 127.6,674.2 128.4,674.5 129.0,675.0 129.6,675.5 130.3,676.0 130.9,676.5 131.6,677.0 132.2,677.5 132.8,678.0 133.3,678.7 133.8,679.3 134.5,679.8 135.3,680.1 136.0,680.5 136.7,680.9 137.3,681.5 137.8,682.2 138.4,682.7 139.2,683.0 139.9,683.4 140.2,684.5 140.5,685.5 141.0,686.2 141.6,686.6 142.5,686.9 143.5,686.8 144.2,687.2 145.0,687.5 145.8,687.8 146.3,688.5 146.9,689.1 147.6,689.6 148.4,689.8 149.2,690.2 149.8,690.6 150.5,691.1 151.1,691.6 151.7,692.2 152.3,692.7 153.1,693.1 153.8,693.4 154.1,694.4 154.6,695.2 155.2,695.7 155.8,696.3 156.3,697.0 156.9,697.5 157.7,697.8 158.1,698.6 158.7,699.1 159.5,699.5 160.4,699.6 161.1,699.9 161.8,700.4 162.5,700.7 163.4,700.8 164.4,700.7 164.8,701.5 165.0,702.7 165.5,703.4 166.1,704.0 166.8,704.4 167.6,704.5 168.7,704.3 169.6,704.3 170.3,704.8 170.7,705.6 171.0,706.6 171.5,707.2 172.2,707.7 172.7,708.4 173.3,708.9 174.0,709.3 174.9,709.4 175.9,709.4 176.9,709.4 177.5,709.8 178.2,710.3 178.9,710.7 179.5,711.2 180.2,711.6 180.8,712.1 181.5,712.6 182.2,713.0 182.8,713.5 183.5,713.9 184.0,714.6 184.7,715.0 185.5,715.3 186.1,715.7 186.8,716.2 187.3,716.9 187.9,717.4 188.6,717.8 189.4,718.0 190.1,718.5 190.3,719.7 190.6,720.6 191.3,721.1 192.1,721.4 193.1,721.3 194.1,721.2 194.6,721.8 195.2,722.4 195.2,724.0 195.5,725.0 195.9,725.7 196.6,726.2 197.3,726.6 198.2,726.7 199.4,726.3 200.7,725.8 201.3,726.4 201.7,727.3 202.0,728.3 202.6,728.9 203.3,729.3 203.7,730.2 204.3,730.7 205.1,731.0 217.7,711.0 217.2,710.2 216.8,709.3 216.3,708.7 215.5,708.5 214.5,708.5 213.4,708.7 212.9,708.1 212.2,707.7 211.3,707.7 210.1,708.0 209.5,707.6 208.8,707.2 208.1,706.8 207.4,706.4 206.8,706.0 206.1,705.6 205.6,704.9 205.0,704.2 204.4,703.8 203.5,703.7 202.7,703.5 202.0,703.1 201.3,702.6 200.6,702.2 200.0,701.8 199.3,701.4 198.6,701.0 197.9,700.5 197.3,700.1 196.6,699.7 195.9,699.3 195.2,698.9 194.5,698.5 194.1,697.7 193.4,697.3 192.6,697.1 191.8,696.8 191.2,696.3 190.5,695.9 189.8,695.5 189.1,695.1 188.5,694.7 187.8,694.2 187.1,693.8 186.4,693.4 185.9,692.7 185.5,691.9 184.9,691.4 184.1,691.2 183.2,691.0 182.8,690.2 182.2,689.7 181.3,689.5 180.4,689.4 179.7,689.0 179.0,688.7 178.3,688.3 178.0,687.3 177.7,686.3 177.2,685.6 176.5,685.1 175.8,684.8 174.9,684.6 173.8,684.9 173.0,684.6 172.3,684.2 171.5,684.1 170.8,683.6 170.1,683.2 169.6,682.6 168.9,682.1 168.2,681.7 167.9,680.7 167.4,680.1 166.7,679.7 165.8,679.6 164.8,679.7 164.6,678.5 164.2,677.8 163.5,677.3 162.7,677.1 161.7,677.2 161.0,676.9 160.2,676.7 159.4,676.5 158.7,676.1 158.0,675.6 157.5,675.1 156.9,674.5 156.2,674.1 155.5,673.8 154.8,673.4 154.2,672.9 153.6,672.4 153.1,671.8 152.7,670.9 152.2,670.4 151.4,670.1 150.5,670.0 149.6,670.0 148.9,669.6 148.3,669.1 148.4,667.6 148.1,666.7 147.6,666.1 146.9,665.6 146.1,665.4 145.2,665.3 144.4,665.1 143.2,665.3 142.4,665.1 142.1,664.2 141.9,663.2 141.4,662.4 140.8,661.9 140.1,661.6 139.2,661.5 138.6,661.0 138.0,660.4 137.3,660.1 136.4,660.0 135.7,659.6 135.4,658.7 134.8,658.2 134.1,657.8 133.3,657.6 132.5,657.3 131.7,657.0 131.2,656.4 130.7,655.7 130.0,655.3 129.1,655.3 128.4,654.8 127.8,654.3 127.2,653.9 126.6,653.4 126.0,652.8 125.6,652.1 125.3,651.3 124.8,650.6 124.1,650.2 123.3,649.9 122.4,649.8 121.6,649.5 121.0,649.0 120.4,648.5 119.8,648.1 119.1,647.6 118.5,647.1 117.9,646.6 117.3,646.1 116.7,645.6 116.1,645.1 115.5,644.6 114.9,644.1 114.3,643.6 113.9,642.9 113.5,642.2 112.9,641.7 112.0,641.6 111.3,641.1 111.2,640.1 110.7,639.4 110.1,638.9 109.2,638.8 108.4,638.5 107.8,638.0 107.3,637.3 106.6,636.9 106.0,636.4 105.4,635.9 104.9,635.2 104.7,634.3 104.2,633.7 103.8,632.9 103.5,632.1 103.0,631.6 102.2,631.2 100.9,631.4 100.1,631.1 99.6,630.5 99.0,630.0 98.4,629.5 97.9,628.9 97.4,628.3 96.7,627.9 96.1,627.3 95.7,626.6 95.6,625.6 95.3,624.8 94.7,624.2 94.1,623.8 93.2,623.5 92.1,623.5 91.5,623.0 91.0,622.4 90.4,621.9 89.8,621.3 89.3,620.8 88.7,620.2 88.1,619.7 87.5,619.1 87.4,618.2 87.2,617.3 86.6,616.7 85.9,616.3 84.7,616.3 84.1,615.8 83.6,615.2 83.0,614.6 82.4,614.1 82.1,613.3 81.8,612.4 81.2,611.8 80.5,611.4 79.6,611.3 79.0,610.7 78.7,609.9 78.2,609.2 77.5,608.9 76.7,608.5 76.2,607.9 75.6,607.4 75.2,606.7 75.0,605.8 74.5,605.1 74.3,604.3 73.9,603.6 73.4,603.0 72.7,602.6 71.7,602.5 71.0,602.1 70.7,601.3 70.3,600.6 69.8,600.0 69.1,599.6 68.2,599.4 67.6,598.8 67.0,598.3 66.9,597.4 67.0,596.3 66.7,595.6 66.1,595.0 65.5,594.6 64.8,594.1 63.8,593.9 63.1,593.5 62.4,593.1 61.9,592.5 61.4,591.9 60.9,591.4 60.4,590.8 59.8,590.2 59.8,589.3 59.6,588.5 59.3,587.8 59.1,587.0 58.8,586.3 58.2,585.8 57.4,585.4 56.1,585.4 55.4,584.9 55.0,584.3 54.5,583.6 54.0,583.0 53.6,582.3 53.1,581.7 53.3,580.7 53.7,579.5 53.7,578.6 53.3,577.9 52.8,577.3 52.0,577.0 50.7,576.9 49.5,576.7 49.0,576.0 48.6,575.4 48.4,574.6 48.4,573.7 48.1,572.9 47.7,572.2 47.0,571.6 46.0,571.2 45.4,570.5 44.9,569.8 44.3,569.1 43.8,568.4 43.2,567.8 42.6,567.1 41.9,566.5 41.3,565.9" fill="#b8d8ef"/>
<polyline points="39.5,571.5 41.5,572.8 43.0,574.6 44.3,576.6 45.2,578.9 46.0,581.1 46.8,583.4 47.5,585.7 48.4,587.9 49.3,590.2 50.1,592.4 51.0,594.6 52.0,596.8 52.9,599.1 53.8,601.3 54.7,603.5 55.6,605.7 56.5,607.9 57.5,610.1 58.5,612.3 59.5,614.5 60.5,616.7 61.6,618.8 62.7,620.9 63.8,623.0 64.9,625.2 66.0,627.3 67.1,629.5 68.2,631.6 69.3,633.7 70.4,635.9 71.5,638.0 72.7,640.1 73.8,642.2 74.9,644.3 76.1,646.4 77.2,648.6 78.4,650.7 79.5,652.8 80.7,654.9 81.8,657.0 83.0,659.1 84.2,661.2 85.3,663.3 86.5,665.4 87.6,667.5 88.8,669.6 89.9,671.7 91.0,673.8 92.2,675.9 93.3,678.0 94.4,680.2 95.6,682.3 96.7,684.4 97.9,686.5 99.1,688.6 100.3,690.6 101.5,692.7 102.7,694.8 104.0,696.8 105.2,698.9 106.4,700.9 107.7,703.0 109.0,705.0 110.2,707.1 111.5,709.1 112.8,711.1 114.1,713.1 115.4,715.2 116.7,717.2 118.0,719.2 119.3,721.2 120.6,723.2 121.9,725.2 123.3,727.2 124.6,729.2 126.0,731.2 127.3,733.2 128.7,735.2 130.0,737.2 131.3,739.2 132.6,741.2 133.9,743.2 135.2,745.2 136.5,747.2 137.8,749.2 139.1,751.3 140.4,753.3 141.6,755.3 142.9,757.4 144.2,759.4 145.4,761.5 146.7,763.5 147.9,765.6 149.2,767.6" fill="none" stroke="#23426e" stroke-width="0.9" stroke-dasharray="3 3"/>
<polyline points="39.5,563.6 40.7,565.7 42.4,567.4 44.2,569.0 46.0,570.5 48.0,571.9 50.1,573.1 52.1,574.3 54.2,575.5 56.3,576.6 58.4,577.8 60.5,579.1 62.5,580.3 64.6,581.5 66.7,582.7 68.8,583.8 70.9,585.0 73.0,586.1 75.2,587.3 77.3,588.4 79.4,589.5 81.5,590.7 83.6,591.8 85.7,592.9 87.9,594.0 90.0,595.1 92.1,596.3 94.2,597.4 96.4,598.5 98.5,599.6 100.6,600.7 102.8,601.8 104.9,602.9 107.0,604.0 109.1,605.1 111.3,606.2 113.4,607.3 115.6,608.3 117.8,609.3 120.0,610.3 122.2,611.2 124.4,612.2 126.6,613.1 128.8,613.9 131.1,614.8 133.3,615.6 135.6,616.5 137.8,617.3 140.1,618.1 142.4,618.9 144.6,619.7 146.9,620.5 149.1,621.4 151.4,622.2 153.7,623.0 155.9,623.8 158.2,624.6 160.4,625.5 162.7,626.3 164.9,627.2 167.1,628.0 169.4,628.9 171.6,629.7 173.9,630.5 176.1,631.4 178.4,632.2 180.6,633.1 182.9,633.9 185.1,634.8 187.4,635.6 189.6,636.5 191.8,637.3 194.1,638.2 196.3,639.0 198.6,639.9 200.8,640.7 203.1,641.6 205.3,642.4 207.5,643.3 209.8,644.2" fill="none" stroke="#e4682e" stroke-width="0.9" stroke-dasharray="3 3"/>
<polyline points="39.5,567.6 41.1,569.4 42.5,571.4 43.7,573.4 44.8,575.5 45.9,577.7 47.1,579.8 48.3,581.8 49.5,583.9 50.8,585.9 52.1,588.0 53.4,590.0 54.8,591.9 56.2,593.9 57.7,595.8 59.2,597.7 60.7,599.5 62.2,601.4 63.8,603.2 65.3,605.0 66.9,606.8 68.6,608.6 70.2,610.3 71.9,612.0 73.5,613.8 75.2,615.5 76.9,617.2 78.5,618.9 80.2,620.7 81.9,622.4 83.6,624.1 85.2,625.8 86.9,627.5 88.6,629.2 90.3,630.9 92.0,632.6 93.7,634.3 95.5,636.0 97.2,637.6 98.9,639.3 100.7,640.9 102.4,642.5 104.2,644.2 106.0,645.8 107.8,647.4 109.6,649.0 111.4,650.6 113.2,652.2 115.0,653.7 116.8,655.2 118.7,656.8 120.6,658.3 122.4,659.8 124.3,661.3 126.2,662.8 128.1,664.3 130.0,665.7 131.9,667.2 133.8,668.6 135.7,670.1 137.6,671.5 139.6,673.0 141.5,674.4 143.4,675.8 145.4,677.2 147.3,678.6 149.3,680.0 151.3,681.3 153.3,682.7 155.2,684.0 157.2,685.3 159.2,686.7 161.2,688.0 163.3,689.3 165.3,690.6 167.3,691.9 169.3,693.2 171.3,694.6 173.3,695.9 175.3,697.2 177.3,698.5 179.3,699.8 181.3,701.2 183.3,702.5 185.3,703.8 187.3,705.1 189.3,706.4 191.3,707.7 193.4,709.0 195.4,710.4 197.4,711.7 199.4,713.0 201.4,714.3 203.4,715.6 205.5,716.9 207.5,718.1 209.5,719.4 211.5,720.7" fill="none" stroke="#5a9cd2" stroke-width="0.9" stroke-dasharray="3 3"/>
</g>
<rect x="39.5" y="561.5" width="164" height="183" fill="none" stroke="#8c8c8c" stroke-width="1"/>
<line x1="39.5" y1="744.5" x2="203.5" y2="744.5" stroke="#6a6a6a" stroke-width="1"/>
<line x1="39.5" y1="561.5" x2="39.5" y2="744.5" stroke="#6a6a6a" stroke-width="1"/>
<line x1="39.5" y1="744.5" x2="39.5" y2="747.0" stroke="#6a6a6a" stroke-width="0.8"/>
<text x="39.50" y="759.60" font-size="11.5" text-anchor="middle" fill="#151515">0</text>
<line x1="80.5" y1="744.5" x2="80.5" y2="747.0" stroke="#6a6a6a" stroke-width="0.8"/>
<text x="80.50" y="759.60" font-size="11.5" text-anchor="middle" fill="#151515">1000</text>
<line x1="121.5" y1="744.5" x2="121.5" y2="747.0" stroke="#6a6a6a" stroke-width="0.8"/>
<text x="121.50" y="759.60" font-size="11.5" text-anchor="middle" fill="#151515">2000</text>
<line x1="162.5" y1="744.5" x2="162.5" y2="747.0" stroke="#6a6a6a" stroke-width="0.8"/>
<text x="162.50" y="759.60" font-size="11.5" text-anchor="middle" fill="#151515">3000</text>
<line x1="203.5" y1="744.5" x2="203.5" y2="747.0" stroke="#6a6a6a" stroke-width="0.8"/>
<text x="203.50" y="759.60" font-size="11.5" text-anchor="middle" fill="#151515">4000</text>
<text x="121.90" y="776.30" font-size="11.8" text-anchor="middle" fill="#151515">Time (ns)</text>
<text x="20.90" y="655.00" font-size="11.8" text-anchor="middle" fill="#151515" transform="rotate(-90 20.90 655.00)" dominant-baseline="central">Normalized intensity</text>
<text x="197.00" y="580.80" font-size="12" text-anchor="end" fill="#151515">DMS + 3F-PEA /</text>
<text x="197.00" y="595.10" font-size="12" text-anchor="end" fill="#151515">CsFAMA</text>
<text x="199.30" y="662.60" font-size="12" text-anchor="end" fill="#151515">3F-PEA /</text>
<text x="199.30" y="677.00" font-size="12" text-anchor="end" fill="#151515">CsFAMA</text>
<text x="59.60" y="729.00" font-size="12" fill="#151515">CsFAMA</text>
<text x="249.80" y="555.50" font-size="15" font-weight="bold" fill="#000">h</text>
<g clip-path="url(#cph)">
<line x1="355" y1="657" x2="385.6" y2="744.5" stroke="#f08a62" stroke-width="0.9" stroke-dasharray="2.2 1.6"/>
<line x1="354.5" y1="700" x2="366.2" y2="737" stroke="#82b6df" stroke-width="0.9" stroke-dasharray="2.2 1.6"/>
<line x1="333" y1="698" x2="350.5" y2="744.5" stroke="#3f6fb6" stroke-width="0.9" stroke-dasharray="2.2 1.6"/>
<polyline points="283.5,580.4 299.2,585.8 316.7,589.4 328.4,596 341.9,612.5 351.2,646.2 364.6,686.5 380.4,727.9 387.7,733.7 400,737.5 414,740.4 443,741.6" fill="none" stroke="#f59a7a" stroke-width="1.1" stroke-linejoin="round"/>
<polyline points="283.5,594.2 315.3,607.4 328.4,623 339.6,659.6 349.2,686.5 360.8,713.5 367.5,731.7 380,738 400,740.2 443,742.3" fill="none" stroke="#8fc2e6" stroke-width="1.1" stroke-linejoin="round"/>
<polyline points="283.5,612.8 301.4,629.6 316.7,658.8 330,691.3 341.5,715.4 353.1,732.7 364.6,739.4 400,741.5 443,742.6" fill="none" stroke="#4474ba" stroke-width="1.1" stroke-linejoin="round"/>
</g>
<rect x="283.5" y="561.5" width="159" height="183" fill="none" stroke="#6a6a6a" stroke-width="1"/>
<line x1="283.5" y1="744.5" x2="283.5" y2="748.0" stroke="#555" stroke-width="0.9"/>
<line x1="336.5" y1="744.5" x2="336.5" y2="748.0" stroke="#555" stroke-width="0.9"/>
<line x1="389.5" y1="744.5" x2="389.5" y2="748.0" stroke="#555" stroke-width="0.9"/>
<line x1="442.5" y1="744.5" x2="442.5" y2="748.0" stroke="#555" stroke-width="0.9"/>
<text x="283.50" y="759.60" font-size="11.5" text-anchor="middle" fill="#151515">16.0</text>
<text x="336.50" y="759.60" font-size="11.5" text-anchor="middle" fill="#151515">16.2</text>
<text x="389.50" y="759.60" font-size="11.5" text-anchor="middle" fill="#151515">16.4</text>
<text x="442.50" y="759.60" font-size="11.5" text-anchor="middle" fill="#151515">16.6</text>
<text x="364.30" y="776.20" font-size="12.2" text-anchor="middle" fill="#151515">Binding energy (eV)</text>
<text x="268.60" y="652.50" font-size="12" text-anchor="middle" fill="#151515" transform="rotate(-90 268.60 652.50)" dominant-baseline="central">Intensity (a.u.)</text>
<polyline points="317,590.3 321.8,577.4 338,577.4" fill="none" stroke="#34495c" stroke-width="0.95" stroke-dasharray="3 2"/>
<polyline points="340.6,661.5 358.8,637.6 375.2,637.6" fill="none" stroke="#34495c" stroke-width="0.95" stroke-dasharray="3 2"/>
<polyline points="349.2,734.6 376.2,709.7 388.7,709.7" fill="none" stroke="#34495c" stroke-width="0.95" stroke-dasharray="3 2"/>
<text x="430.80" y="581.10" font-size="12" text-anchor="end" fill="#151515">DMS + 3F-PEA /</text>
<text x="430.80" y="595.70" font-size="12" text-anchor="end" fill="#151515">CsFAMA</text>
<text x="430.80" y="610.50" font-size="12" text-anchor="end" fill="#151515">(16.38)</text>
<text x="429.20" y="641.20" font-size="12" text-anchor="end" fill="#151515">3F-PEA /</text>
<text x="429.80" y="655.80" font-size="12" text-anchor="end" fill="#151515">CsFAMA</text>
<text x="429.80" y="670.70" font-size="12" text-anchor="end" fill="#151515">(16.31)</text>
<text x="430.50" y="701.30" font-size="12" text-anchor="end" fill="#151515">CsFAMA</text>
<text x="430.50" y="716.40" font-size="12" text-anchor="end" fill="#151515">(16.25)</text>
<text x="481.60" y="555.50" font-size="15" font-weight="bold" fill="#000">i</text>
<path d="M507.4 566 L620.2 566 L620.2 626 C600 622.5 560 618.5 507.4 617.2 Z" fill="url(#giU)"/>
<path d="M540 617.8 C570 619.5 600 622.5 620.2 626 L620.2 637.5 C600 629 575 620.5 540 617.8 Z" fill="#4a7bc0"/>
<path d="M507.4 617.2 C560 618.5 600 622.5 620.2 626" fill="none" stroke="#0d2238" stroke-width="1"/>
<path d="M545 618 C575 620.8 600 629 620.2 637.5" fill="none" stroke="#0d2238" stroke-width="0.9" stroke-dasharray="3 2"/>
<path d="M507.4 690.8 C560 691.8 600 695.5 620.2 699.8 L620.2 781 L507.4 781 Z" fill="url(#giL)"/>
<path d="M555 692.5 C580 694 605 697 620.2 699.8 L620.2 711 C600 702 580 695 555 692.5 Z" fill="#4a7bc0"/>
<path d="M507.4 690.8 C560 691.8 600 695.5 620.2 699.8" fill="none" stroke="#0d2238" stroke-width="1"/>
<path d="M555 692.6 C580 695 603 702 620.2 711" fill="none" stroke="#0d2238" stroke-width="0.9" stroke-dasharray="3 2"/>
<rect x="620.6" y="612.6" width="13.7" height="108.7" fill="#e8eef7"/>
<rect x="634.6" y="578" width="45.3" height="69.3" fill="url(#gcU)"/>
<line x1="634.6" y1="647.5" x2="679.9" y2="647.5" stroke="#111" stroke-width="1.2"/>
<rect x="634.8" y="716.6" width="45" height="52" fill="url(#gcL)"/>
<line x1="634.8" y1="716.5" x2="679.8" y2="716.5" stroke="#111" stroke-width="1.2"/>
<line x1="508" y1="660.5" x2="680" y2="660.5" stroke="#111" stroke-width="1.1" stroke-dasharray="4.1 3"/>
<text x="519.00" y="568.50" font-size="12" fill="#151515">CsFAMA</text>
<text x="621.20" y="567.60" font-size="12" fill="#151515">LD</text>
<text x="659.50" y="567.60" font-size="12" fill="#151515">C<tspan font-size="8" dy="3">60</tspan></text>
<text x="513.00" y="631.50" font-size="12" font-style="italic" fill="#151515">CBM</text>
<text x="513.60" y="686.00" font-size="12" font-style="italic" fill="#151515">VBM</text>
<text x="517.60" y="658.10" font-size="12" font-style="italic" fill="#151515">E<tspan font-size="8.5" dy="3.4">F</tspan></text>
<text x="557.90" y="759.90" font-size="12" fill="#151515">Interface</text>
<circle cx="583.2" cy="612.1" r="3.5" fill="#fff" stroke="#333" stroke-width="0.9"/>
<line x1="581.2" y1="612.1" x2="585.2" y2="612.1" stroke="#333" stroke-width="0.9"/>
<circle cx="610.1" cy="615.8" r="3.5" fill="#fff" stroke="#333" stroke-width="0.9"/>
<line x1="608.1" y1="615.8" x2="612.1" y2="615.8" stroke="#333" stroke-width="0.9"/>
<circle cx="651.4" cy="640.3" r="3.5" fill="#fff" stroke="#333" stroke-width="0.9"/>
<line x1="649.4" y1="640.3" x2="653.4" y2="640.3" stroke="#333" stroke-width="0.9"/>
<circle cx="575" cy="707.9" r="3.5" fill="#fff" stroke="#333" stroke-width="0.9"/>
<line x1="573" y1="707.9" x2="577" y2="707.9" stroke="#333" stroke-width="0.9"/>
<line x1="575" y1="705.9" x2="575" y2="709.9" stroke="#333" stroke-width="0.9"/>
<circle cx="598.2" cy="715.1" r="3.5" fill="#fff" stroke="#333" stroke-width="0.9"/>
<line x1="596.2" y1="715.1" x2="600.2" y2="715.1" stroke="#333" stroke-width="0.9"/>
<line x1="598.2" y1="713.1" x2="598.2" y2="717.1" stroke="#333" stroke-width="0.9"/>
<path d="M614.2 639.3 C618 642 621 644.5 624.5 641.5 C628 638.5 630 637.5 633 640 L639.5 641" fill="none" stroke="#111" stroke-width="1" marker-end="url(#arr)"/>
<line x1="623.3" y1="702.3" x2="648.3" y2="653.5" stroke="#111" stroke-width="1" marker-end="url(#arr)"/>
<path d="M608.5 717.1 C615 719.5 617 725 610 727.5 C605 728.5 590 728.5 577 728.5" fill="none" stroke="#111" stroke-width="1" marker-end="url(#arr)"/>
<path d="M639.3 662.6 L642.2 674.3 M635 669 L646.8 667.2" stroke="#d42020" stroke-width="1"/>
</svg>
</body></html>
